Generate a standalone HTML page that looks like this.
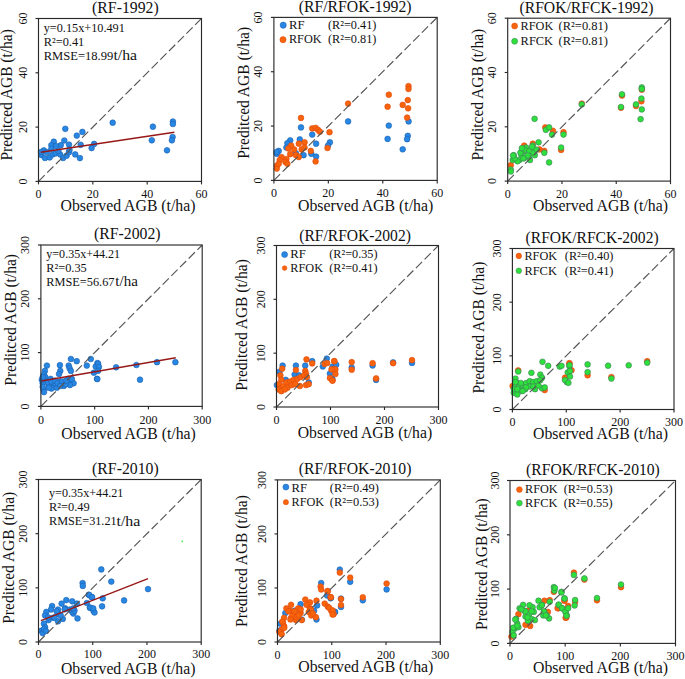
<!DOCTYPE html>
<html><head><meta charset="utf-8"><style>
html,body{margin:0;padding:0;background:#fff;}
svg{display:block;}
text{font-family:"Liberation Serif", serif;fill:#111;}
</style></head><body>
<svg width="685" height="679" viewBox="0 0 685 679">
<rect width="685" height="679" fill="#fff"/>
<g id="p11"><circle cx="53.8" cy="141.7" r="2.85" fill="#2787e3" stroke="#1d5fae" stroke-width="0.6"/>
<circle cx="51.4" cy="145.2" r="2.85" fill="#2787e3" stroke="#1d5fae" stroke-width="0.6"/>
<circle cx="51.4" cy="148.7" r="2.85" fill="#2787e3" stroke="#1d5fae" stroke-width="0.6"/>
<circle cx="64.3" cy="140.5" r="2.85" fill="#2787e3" stroke="#1d5fae" stroke-width="0.6"/>
<circle cx="60.8" cy="145.2" r="2.85" fill="#2787e3" stroke="#1d5fae" stroke-width="0.6"/>
<circle cx="69" cy="144.6" r="2.85" fill="#2787e3" stroke="#1d5fae" stroke-width="0.6"/>
<circle cx="43.8" cy="150.4" r="2.85" fill="#2787e3" stroke="#1d5fae" stroke-width="0.6"/>
<circle cx="41.5" cy="155.1" r="2.85" fill="#2787e3" stroke="#1d5fae" stroke-width="0.6"/>
<circle cx="45" cy="158" r="2.85" fill="#2787e3" stroke="#1d5fae" stroke-width="0.6"/>
<circle cx="49.7" cy="157.4" r="2.85" fill="#2787e3" stroke="#1d5fae" stroke-width="0.6"/>
<circle cx="52.6" cy="154.5" r="2.85" fill="#2787e3" stroke="#1d5fae" stroke-width="0.6"/>
<circle cx="55.5" cy="153.4" r="2.85" fill="#2787e3" stroke="#1d5fae" stroke-width="0.6"/>
<circle cx="60.2" cy="154.5" r="2.85" fill="#2787e3" stroke="#1d5fae" stroke-width="0.6"/>
<circle cx="63.1" cy="158" r="2.85" fill="#2787e3" stroke="#1d5fae" stroke-width="0.6"/>
<circle cx="66.6" cy="155.7" r="2.85" fill="#2787e3" stroke="#1d5fae" stroke-width="0.6"/>
<circle cx="69" cy="152.2" r="2.85" fill="#2787e3" stroke="#1d5fae" stroke-width="0.6"/>
<circle cx="69.5" cy="149.9" r="2.85" fill="#2787e3" stroke="#1d5fae" stroke-width="0.6"/>
<circle cx="58.4" cy="151" r="2.85" fill="#2787e3" stroke="#1d5fae" stroke-width="0.6"/>
<circle cx="56" cy="146" r="2.85" fill="#2787e3" stroke="#1d5fae" stroke-width="0.6"/>
<circle cx="47" cy="152" r="2.85" fill="#2787e3" stroke="#1d5fae" stroke-width="0.6"/>
<circle cx="41" cy="152" r="2.85" fill="#2787e3" stroke="#1d5fae" stroke-width="0.6"/>
<circle cx="65.3" cy="128.8" r="2.85" fill="#2787e3" stroke="#1d5fae" stroke-width="0.6"/>
<circle cx="76.8" cy="135.6" r="2.85" fill="#2787e3" stroke="#1d5fae" stroke-width="0.6"/>
<circle cx="82.4" cy="131.9" r="2.85" fill="#2787e3" stroke="#1d5fae" stroke-width="0.6"/>
<circle cx="80.7" cy="144.8" r="2.85" fill="#2787e3" stroke="#1d5fae" stroke-width="0.6"/>
<circle cx="94.1" cy="143.9" r="2.85" fill="#2787e3" stroke="#1d5fae" stroke-width="0.6"/>
<circle cx="91.6" cy="148.1" r="2.85" fill="#2787e3" stroke="#1d5fae" stroke-width="0.6"/>
<circle cx="75.2" cy="154.4" r="2.85" fill="#2787e3" stroke="#1d5fae" stroke-width="0.6"/>
<circle cx="79.9" cy="158.1" r="2.85" fill="#2787e3" stroke="#1d5fae" stroke-width="0.6"/>
<circle cx="112.7" cy="122.7" r="2.85" fill="#2787e3" stroke="#1d5fae" stroke-width="0.6"/>
<circle cx="152.9" cy="126.7" r="2.85" fill="#2787e3" stroke="#1d5fae" stroke-width="0.6"/>
<circle cx="172.9" cy="121.5" r="2.85" fill="#2787e3" stroke="#1d5fae" stroke-width="0.6"/>
<circle cx="172.9" cy="124" r="2.85" fill="#2787e3" stroke="#1d5fae" stroke-width="0.6"/>
<circle cx="151.8" cy="140.3" r="2.85" fill="#2787e3" stroke="#1d5fae" stroke-width="0.6"/>
<circle cx="172.6" cy="137" r="2.85" fill="#2787e3" stroke="#1d5fae" stroke-width="0.6"/>
<circle cx="171.9" cy="140.3" r="2.85" fill="#2787e3" stroke="#1d5fae" stroke-width="0.6"/>
<circle cx="167" cy="150.3" r="2.85" fill="#2787e3" stroke="#1d5fae" stroke-width="0.6"/>
<line x1="38.5" y1="181.4" x2="201.5" y2="18.5" stroke="#555555" stroke-width="1.15" stroke-dasharray="8.8 3.5"/>
<line x1="40.7" y1="152.3" x2="174.4" y2="132.3" stroke="#981818" stroke-width="1.45"/>
<rect x="38.5" y="18.5" width="163" height="162.9" fill="none" stroke="#2a2a2a" stroke-width="1.15"/>
<line x1="38.5" y1="181.4" x2="38.5" y2="184.4" stroke="#2a2a2a" stroke-width="1.15"/>
<line x1="35.5" y1="181.4" x2="38.5" y2="181.4" stroke="#2a2a2a" stroke-width="1.15"/>
<text transform="translate(38.5 197.9) scale(1 1)" font-size="12" text-anchor="middle">0</text>
<text transform="translate(27 181.4) rotate(-90) scale(1 1)" font-size="12" text-anchor="middle">0</text>
<line x1="92.83" y1="181.4" x2="92.83" y2="184.4" stroke="#2a2a2a" stroke-width="1.15"/>
<line x1="35.5" y1="127.1" x2="38.5" y2="127.1" stroke="#2a2a2a" stroke-width="1.15"/>
<text transform="translate(92.83 197.9) scale(1 1)" font-size="12" text-anchor="middle">20</text>
<text transform="translate(27 127.1) rotate(-90) scale(1 1)" font-size="12" text-anchor="middle">20</text>
<line x1="147.17" y1="181.4" x2="147.17" y2="184.4" stroke="#2a2a2a" stroke-width="1.15"/>
<line x1="35.5" y1="72.8" x2="38.5" y2="72.8" stroke="#2a2a2a" stroke-width="1.15"/>
<text transform="translate(147.17 197.9) scale(1 1)" font-size="12" text-anchor="middle">40</text>
<text transform="translate(27 72.8) rotate(-90) scale(1 1)" font-size="12" text-anchor="middle">40</text>
<line x1="201.5" y1="181.4" x2="201.5" y2="184.4" stroke="#2a2a2a" stroke-width="1.15"/>
<line x1="35.5" y1="18.5" x2="38.5" y2="18.5" stroke="#2a2a2a" stroke-width="1.15"/>
<text transform="translate(201.5 197.9) scale(1 1)" font-size="12" text-anchor="middle">60</text>
<text transform="translate(27 18.5) rotate(-90) scale(1 1)" font-size="12" text-anchor="middle">60</text>
<text transform="translate(92.1 12.9) scale(1 1)" font-size="15.9" textLength="66.6" lengthAdjust="spacingAndGlyphs">(RF-1992)</text>
<text transform="translate(60.6 211) scale(1 1)" font-size="16" textLength="134.9" lengthAdjust="spacingAndGlyphs">Observed AGB (t/ha)</text>
<text transform="translate(12.1 160.6) rotate(-90) scale(1 1)" font-size="16" textLength="131.4" lengthAdjust="spacingAndGlyphs">Preditced AGB (t/ha)</text>
<text transform="translate(43.7 31.7) scale(1 1)" font-size="13" textLength="81.1" lengthAdjust="spacingAndGlyphs">y=0.15x+10.491</text>
<text transform="translate(43.7 45.5) scale(1 1)" font-size="13" textLength="40.6" lengthAdjust="spacingAndGlyphs">R²=0.41</text>
<text transform="translate(43.7 59.7) scale(1 1)" font-size="13" textLength="69.6" lengthAdjust="spacingAndGlyphs">RMSE=18.99</text>
<text transform="translate(113.4 59.9) scale(1 1)" font-size="15.5" textLength="23.6" lengthAdjust="spacingAndGlyphs">t/ha</text></g>
<g id="p12"><circle cx="301" cy="127.4" r="2.85" fill="#2787e3" stroke="#1d5fae" stroke-width="0.6"/>
<circle cx="312.2" cy="134.6" r="2.85" fill="#2787e3" stroke="#1d5fae" stroke-width="0.6"/>
<circle cx="316.1" cy="143.7" r="2.85" fill="#2787e3" stroke="#1d5fae" stroke-width="0.6"/>
<circle cx="329.9" cy="142.3" r="2.85" fill="#2787e3" stroke="#1d5fae" stroke-width="0.6"/>
<circle cx="328" cy="145.6" r="2.85" fill="#2787e3" stroke="#1d5fae" stroke-width="0.6"/>
<circle cx="311.3" cy="153.8" r="2.85" fill="#2787e3" stroke="#1d5fae" stroke-width="0.6"/>
<circle cx="316.1" cy="156.6" r="2.85" fill="#2787e3" stroke="#1d5fae" stroke-width="0.6"/>
<circle cx="290.2" cy="140.4" r="2.85" fill="#2787e3" stroke="#1d5fae" stroke-width="0.6"/>
<circle cx="287.4" cy="143.2" r="2.85" fill="#2787e3" stroke="#1d5fae" stroke-width="0.6"/>
<circle cx="299.8" cy="139.4" r="2.85" fill="#2787e3" stroke="#1d5fae" stroke-width="0.6"/>
<circle cx="286.4" cy="147.5" r="2.85" fill="#2787e3" stroke="#1d5fae" stroke-width="0.6"/>
<circle cx="278.7" cy="150.9" r="2.85" fill="#2787e3" stroke="#1d5fae" stroke-width="0.6"/>
<circle cx="276.8" cy="153.8" r="2.85" fill="#2787e3" stroke="#1d5fae" stroke-width="0.6"/>
<circle cx="276.5" cy="152" r="2.85" fill="#2787e3" stroke="#1d5fae" stroke-width="0.6"/>
<circle cx="296" cy="153.3" r="2.85" fill="#2787e3" stroke="#1d5fae" stroke-width="0.6"/>
<circle cx="303.6" cy="155.2" r="2.85" fill="#2787e3" stroke="#1d5fae" stroke-width="0.6"/>
<circle cx="348.1" cy="121.4" r="2.85" fill="#2787e3" stroke="#1d5fae" stroke-width="0.6"/>
<circle cx="388.8" cy="125.6" r="2.85" fill="#2787e3" stroke="#1d5fae" stroke-width="0.6"/>
<circle cx="387.6" cy="138.9" r="2.85" fill="#2787e3" stroke="#1d5fae" stroke-width="0.6"/>
<circle cx="408.6" cy="121.4" r="2.85" fill="#2787e3" stroke="#1d5fae" stroke-width="0.6"/>
<circle cx="407.8" cy="135.8" r="2.85" fill="#2787e3" stroke="#1d5fae" stroke-width="0.6"/>
<circle cx="407.1" cy="139.2" r="2.85" fill="#2787e3" stroke="#1d5fae" stroke-width="0.6"/>
<circle cx="402.7" cy="149.3" r="2.85" fill="#2787e3" stroke="#1d5fae" stroke-width="0.6"/>
<circle cx="301" cy="117.9" r="2.85" fill="#f8640c" stroke="#e0480e" stroke-width="0.6"/>
<circle cx="312.2" cy="128.4" r="2.85" fill="#f8640c" stroke="#e0480e" stroke-width="0.6"/>
<circle cx="315.6" cy="127.9" r="2.85" fill="#f8640c" stroke="#e0480e" stroke-width="0.6"/>
<circle cx="318" cy="129.8" r="2.85" fill="#f8640c" stroke="#e0480e" stroke-width="0.6"/>
<circle cx="319.9" cy="131.7" r="2.85" fill="#f8640c" stroke="#e0480e" stroke-width="0.6"/>
<circle cx="329.5" cy="132.2" r="2.85" fill="#f8640c" stroke="#e0480e" stroke-width="0.6"/>
<circle cx="327.5" cy="148" r="2.85" fill="#f8640c" stroke="#e0480e" stroke-width="0.6"/>
<circle cx="310.8" cy="150.9" r="2.85" fill="#f8640c" stroke="#e0480e" stroke-width="0.6"/>
<circle cx="315.6" cy="161.4" r="2.85" fill="#f8640c" stroke="#e0480e" stroke-width="0.6"/>
<circle cx="304.6" cy="142.3" r="2.85" fill="#f8640c" stroke="#e0480e" stroke-width="0.6"/>
<circle cx="298.8" cy="143.7" r="2.85" fill="#f8640c" stroke="#e0480e" stroke-width="0.6"/>
<circle cx="291.2" cy="145.6" r="2.85" fill="#f8640c" stroke="#e0480e" stroke-width="0.6"/>
<circle cx="288.3" cy="148.5" r="2.85" fill="#f8640c" stroke="#e0480e" stroke-width="0.6"/>
<circle cx="294.1" cy="149.4" r="2.85" fill="#f8640c" stroke="#e0480e" stroke-width="0.6"/>
<circle cx="301.7" cy="149.4" r="2.85" fill="#f8640c" stroke="#e0480e" stroke-width="0.6"/>
<circle cx="304.6" cy="147.5" r="2.85" fill="#f8640c" stroke="#e0480e" stroke-width="0.6"/>
<circle cx="290.2" cy="154.2" r="2.85" fill="#f8640c" stroke="#e0480e" stroke-width="0.6"/>
<circle cx="296" cy="155.2" r="2.85" fill="#f8640c" stroke="#e0480e" stroke-width="0.6"/>
<circle cx="298.8" cy="157.1" r="2.85" fill="#f8640c" stroke="#e0480e" stroke-width="0.6"/>
<circle cx="286.4" cy="159" r="2.85" fill="#f8640c" stroke="#e0480e" stroke-width="0.6"/>
<circle cx="281.6" cy="157.1" r="2.85" fill="#f8640c" stroke="#e0480e" stroke-width="0.6"/>
<circle cx="279.7" cy="160" r="2.85" fill="#f8640c" stroke="#e0480e" stroke-width="0.6"/>
<circle cx="276.8" cy="165.7" r="2.85" fill="#f8640c" stroke="#e0480e" stroke-width="0.6"/>
<circle cx="276.8" cy="168.6" r="2.85" fill="#f8640c" stroke="#e0480e" stroke-width="0.6"/>
<circle cx="285.4" cy="161.9" r="2.85" fill="#f8640c" stroke="#e0480e" stroke-width="0.6"/>
<circle cx="287.4" cy="163.8" r="2.85" fill="#f8640c" stroke="#e0480e" stroke-width="0.6"/>
<circle cx="278.7" cy="163.8" r="2.85" fill="#f8640c" stroke="#e0480e" stroke-width="0.6"/>
<circle cx="348.1" cy="103.6" r="2.85" fill="#f8640c" stroke="#e0480e" stroke-width="0.6"/>
<circle cx="388.8" cy="94.7" r="2.85" fill="#f8640c" stroke="#e0480e" stroke-width="0.6"/>
<circle cx="387.6" cy="106.7" r="2.85" fill="#f8640c" stroke="#e0480e" stroke-width="0.6"/>
<circle cx="408.5" cy="86.1" r="2.85" fill="#f8640c" stroke="#e0480e" stroke-width="0.6"/>
<circle cx="408.5" cy="88.9" r="2.85" fill="#f8640c" stroke="#e0480e" stroke-width="0.6"/>
<circle cx="407.8" cy="100.1" r="2.85" fill="#f8640c" stroke="#e0480e" stroke-width="0.6"/>
<circle cx="402.7" cy="104.9" r="2.85" fill="#f8640c" stroke="#e0480e" stroke-width="0.6"/>
<circle cx="408.1" cy="108.3" r="2.85" fill="#f8640c" stroke="#e0480e" stroke-width="0.6"/>
<circle cx="407.1" cy="117.6" r="2.85" fill="#f8640c" stroke="#e0480e" stroke-width="0.6"/>
<line x1="273.9" y1="180.4" x2="437.2" y2="17.4" stroke="#555555" stroke-width="1.15" stroke-dasharray="8.8 3.5"/>
<rect x="273.9" y="17.4" width="163.3" height="163" fill="none" stroke="#2a2a2a" stroke-width="1.15"/>
<line x1="273.9" y1="180.4" x2="273.9" y2="183.4" stroke="#2a2a2a" stroke-width="1.15"/>
<line x1="270.9" y1="180.4" x2="273.9" y2="180.4" stroke="#2a2a2a" stroke-width="1.15"/>
<text transform="translate(273.9 196.7) scale(1 1)" font-size="12" text-anchor="middle">0</text>
<text transform="translate(262.4 180.4) rotate(-90) scale(1 1)" font-size="12" text-anchor="middle">0</text>
<line x1="328.33" y1="180.4" x2="328.33" y2="183.4" stroke="#2a2a2a" stroke-width="1.15"/>
<line x1="270.9" y1="126.07" x2="273.9" y2="126.07" stroke="#2a2a2a" stroke-width="1.15"/>
<text transform="translate(328.33 196.7) scale(1 1)" font-size="12" text-anchor="middle">20</text>
<text transform="translate(262.4 126.07) rotate(-90) scale(1 1)" font-size="12" text-anchor="middle">20</text>
<line x1="382.77" y1="180.4" x2="382.77" y2="183.4" stroke="#2a2a2a" stroke-width="1.15"/>
<line x1="270.9" y1="71.73" x2="273.9" y2="71.73" stroke="#2a2a2a" stroke-width="1.15"/>
<text transform="translate(382.77 196.7) scale(1 1)" font-size="12" text-anchor="middle">40</text>
<text transform="translate(262.4 71.73) rotate(-90) scale(1 1)" font-size="12" text-anchor="middle">40</text>
<line x1="437.2" y1="180.4" x2="437.2" y2="183.4" stroke="#2a2a2a" stroke-width="1.15"/>
<line x1="270.9" y1="17.4" x2="273.9" y2="17.4" stroke="#2a2a2a" stroke-width="1.15"/>
<text transform="translate(437.2 196.7) scale(1 1)" font-size="12" text-anchor="middle">60</text>
<text transform="translate(262.4 17.4) rotate(-90) scale(1 1)" font-size="12" text-anchor="middle">60</text>
<text transform="translate(298.7 12) scale(1 1)" font-size="15.9" textLength="112.9" lengthAdjust="spacingAndGlyphs">(RF/RFOK-1992)</text>
<text transform="translate(298 211.3) scale(1 1)" font-size="16" textLength="135.3" lengthAdjust="spacingAndGlyphs">Observed AGB (t/ha)</text>
<text transform="translate(248.5 158.8) rotate(-90) scale(1 1)" font-size="16" textLength="131.9" lengthAdjust="spacingAndGlyphs">Preditced AGB (t/ha)</text>
<circle cx="283.2" cy="25.2" r="3.1" fill="#2787e3" stroke="#1d5fae" stroke-width="0.5"/>
<text transform="translate(288.9 28.6) scale(1 1)" font-size="13" textLength="15.6" lengthAdjust="spacingAndGlyphs">RF</text>
<text transform="translate(328 28.6) scale(1 1)" font-size="13" textLength="48.4" lengthAdjust="spacingAndGlyphs">(R²=0.41)</text>
<circle cx="283" cy="39.7" r="3.1" fill="#f8640c" stroke="#e0480e" stroke-width="0.5"/>
<text transform="translate(288.9 43) scale(1 1)" font-size="13" textLength="32.7" lengthAdjust="spacingAndGlyphs">RFOK</text>
<text transform="translate(328 43) scale(1 1)" font-size="13" textLength="48.4" lengthAdjust="spacingAndGlyphs">(R²=0.81)</text></g>
<g id="p13"><circle cx="545.3" cy="127.4" r="2.85" fill="#f8640c" stroke="#e0480e" stroke-width="0.6"/>
<circle cx="552.9" cy="130.8" r="2.85" fill="#f8640c" stroke="#e0480e" stroke-width="0.6"/>
<circle cx="563.5" cy="132.2" r="2.85" fill="#f8640c" stroke="#e0480e" stroke-width="0.6"/>
<circle cx="561.1" cy="149.9" r="2.85" fill="#f8640c" stroke="#e0480e" stroke-width="0.6"/>
<circle cx="544.3" cy="150.9" r="2.85" fill="#f8640c" stroke="#e0480e" stroke-width="0.6"/>
<circle cx="524.2" cy="145.6" r="2.85" fill="#f8640c" stroke="#e0480e" stroke-width="0.6"/>
<circle cx="532.8" cy="143.7" r="2.85" fill="#f8640c" stroke="#e0480e" stroke-width="0.6"/>
<circle cx="510.8" cy="165.2" r="2.85" fill="#f8640c" stroke="#e0480e" stroke-width="0.6"/>
<circle cx="539.5" cy="149.4" r="2.85" fill="#f8640c" stroke="#e0480e" stroke-width="0.6"/>
<circle cx="581.8" cy="103.6" r="2.85" fill="#f8640c" stroke="#e0480e" stroke-width="0.6"/>
<circle cx="622" cy="95.6" r="2.85" fill="#f8640c" stroke="#e0480e" stroke-width="0.6"/>
<circle cx="641.8" cy="89.7" r="2.85" fill="#f8640c" stroke="#e0480e" stroke-width="0.6"/>
<circle cx="641.4" cy="101.3" r="2.85" fill="#f8640c" stroke="#e0480e" stroke-width="0.6"/>
<circle cx="636" cy="106" r="2.85" fill="#f8640c" stroke="#e0480e" stroke-width="0.6"/>
<circle cx="621" cy="107.8" r="2.85" fill="#f8640c" stroke="#e0480e" stroke-width="0.6"/>
<circle cx="534.6" cy="118.8" r="2.85" fill="#2ee03c" stroke="#3f7a5a" stroke-width="0.6"/>
<circle cx="545.8" cy="129.8" r="2.85" fill="#2ee03c" stroke="#3f7a5a" stroke-width="0.6"/>
<circle cx="549.1" cy="127.4" r="2.85" fill="#2ee03c" stroke="#3f7a5a" stroke-width="0.6"/>
<circle cx="552" cy="134.6" r="2.85" fill="#2ee03c" stroke="#3f7a5a" stroke-width="0.6"/>
<circle cx="563.5" cy="134.6" r="2.85" fill="#2ee03c" stroke="#3f7a5a" stroke-width="0.6"/>
<circle cx="561.1" cy="147.5" r="2.85" fill="#2ee03c" stroke="#3f7a5a" stroke-width="0.6"/>
<circle cx="544.3" cy="152.8" r="2.85" fill="#2ee03c" stroke="#3f7a5a" stroke-width="0.6"/>
<circle cx="549.1" cy="162.4" r="2.85" fill="#2ee03c" stroke="#3f7a5a" stroke-width="0.6"/>
<circle cx="538.6" cy="142.3" r="2.85" fill="#2ee03c" stroke="#3f7a5a" stroke-width="0.6"/>
<circle cx="532.8" cy="145.6" r="2.85" fill="#2ee03c" stroke="#3f7a5a" stroke-width="0.6"/>
<circle cx="533.8" cy="149.4" r="2.85" fill="#2ee03c" stroke="#3f7a5a" stroke-width="0.6"/>
<circle cx="526.1" cy="147.5" r="2.85" fill="#2ee03c" stroke="#3f7a5a" stroke-width="0.6"/>
<circle cx="523.3" cy="151.4" r="2.85" fill="#2ee03c" stroke="#3f7a5a" stroke-width="0.6"/>
<circle cx="521.4" cy="155.2" r="2.85" fill="#2ee03c" stroke="#3f7a5a" stroke-width="0.6"/>
<circle cx="519.4" cy="160" r="2.85" fill="#2ee03c" stroke="#3f7a5a" stroke-width="0.6"/>
<circle cx="529" cy="156.1" r="2.85" fill="#2ee03c" stroke="#3f7a5a" stroke-width="0.6"/>
<circle cx="530" cy="160" r="2.85" fill="#2ee03c" stroke="#3f7a5a" stroke-width="0.6"/>
<circle cx="534.8" cy="155.2" r="2.85" fill="#2ee03c" stroke="#3f7a5a" stroke-width="0.6"/>
<circle cx="513.7" cy="155.2" r="2.85" fill="#2ee03c" stroke="#3f7a5a" stroke-width="0.6"/>
<circle cx="512.7" cy="160" r="2.85" fill="#2ee03c" stroke="#3f7a5a" stroke-width="0.6"/>
<circle cx="510.8" cy="169.5" r="2.85" fill="#2ee03c" stroke="#3f7a5a" stroke-width="0.6"/>
<circle cx="510.8" cy="171.5" r="2.85" fill="#2ee03c" stroke="#3f7a5a" stroke-width="0.6"/>
<circle cx="524.2" cy="158.1" r="2.85" fill="#2ee03c" stroke="#3f7a5a" stroke-width="0.6"/>
<circle cx="581.8" cy="104.4" r="2.85" fill="#2ee03c" stroke="#3f7a5a" stroke-width="0.6"/>
<circle cx="622" cy="94.3" r="2.85" fill="#2ee03c" stroke="#3f7a5a" stroke-width="0.6"/>
<circle cx="621" cy="107" r="2.85" fill="#2ee03c" stroke="#3f7a5a" stroke-width="0.6"/>
<circle cx="641.8" cy="87.4" r="2.85" fill="#2ee03c" stroke="#3f7a5a" stroke-width="0.6"/>
<circle cx="641.8" cy="89" r="2.85" fill="#2ee03c" stroke="#3f7a5a" stroke-width="0.6"/>
<circle cx="641.4" cy="98.5" r="2.85" fill="#2ee03c" stroke="#3f7a5a" stroke-width="0.6"/>
<circle cx="636" cy="104.4" r="2.85" fill="#2ee03c" stroke="#3f7a5a" stroke-width="0.6"/>
<circle cx="641.8" cy="109.4" r="2.85" fill="#2ee03c" stroke="#3f7a5a" stroke-width="0.6"/>
<circle cx="640.6" cy="119.1" r="2.85" fill="#2ee03c" stroke="#3f7a5a" stroke-width="0.6"/>
<circle cx="520.4" cy="152.6" r="2.85" fill="#2ee03c" stroke="#3f7a5a" stroke-width="0.6"/>
<circle cx="524.8" cy="149.6" r="2.85" fill="#2ee03c" stroke="#3f7a5a" stroke-width="0.6"/>
<circle cx="529.2" cy="151.1" r="2.85" fill="#2ee03c" stroke="#3f7a5a" stroke-width="0.6"/>
<circle cx="533.6" cy="152.6" r="2.85" fill="#2ee03c" stroke="#3f7a5a" stroke-width="0.6"/>
<circle cx="536.5" cy="149.6" r="2.85" fill="#2ee03c" stroke="#3f7a5a" stroke-width="0.6"/>
<circle cx="527.7" cy="155.5" r="2.85" fill="#2ee03c" stroke="#3f7a5a" stroke-width="0.6"/>
<circle cx="523.4" cy="158.4" r="2.85" fill="#2ee03c" stroke="#3f7a5a" stroke-width="0.6"/>
<circle cx="517.5" cy="161.3" r="2.85" fill="#2ee03c" stroke="#3f7a5a" stroke-width="0.6"/>
<circle cx="514.6" cy="158.4" r="2.85" fill="#2ee03c" stroke="#3f7a5a" stroke-width="0.6"/>
<circle cx="532.1" cy="146.7" r="2.85" fill="#2ee03c" stroke="#3f7a5a" stroke-width="0.6"/>
<circle cx="521.9" cy="148.2" r="2.85" fill="#2ee03c" stroke="#3f7a5a" stroke-width="0.6"/>
<circle cx="513.1" cy="155.5" r="2.85" fill="#2ee03c" stroke="#3f7a5a" stroke-width="0.6"/>
<line x1="507.7" y1="181.1" x2="670.5" y2="18.2" stroke="#555555" stroke-width="1.15" stroke-dasharray="8.8 3.5"/>
<rect x="507.7" y="18.2" width="162.8" height="162.9" fill="none" stroke="#2a2a2a" stroke-width="1.15"/>
<line x1="507.7" y1="181.1" x2="507.7" y2="184.1" stroke="#2a2a2a" stroke-width="1.15"/>
<line x1="504.7" y1="181.1" x2="507.7" y2="181.1" stroke="#2a2a2a" stroke-width="1.15"/>
<text transform="translate(507.7 197.5) scale(1 1)" font-size="12" text-anchor="middle">0</text>
<text transform="translate(496.2 181.1) rotate(-90) scale(1 1)" font-size="12" text-anchor="middle">0</text>
<line x1="561.97" y1="181.1" x2="561.97" y2="184.1" stroke="#2a2a2a" stroke-width="1.15"/>
<line x1="504.7" y1="126.8" x2="507.7" y2="126.8" stroke="#2a2a2a" stroke-width="1.15"/>
<text transform="translate(561.97 197.5) scale(1 1)" font-size="12" text-anchor="middle">20</text>
<text transform="translate(496.2 126.8) rotate(-90) scale(1 1)" font-size="12" text-anchor="middle">20</text>
<line x1="616.23" y1="181.1" x2="616.23" y2="184.1" stroke="#2a2a2a" stroke-width="1.15"/>
<line x1="504.7" y1="72.5" x2="507.7" y2="72.5" stroke="#2a2a2a" stroke-width="1.15"/>
<text transform="translate(616.23 197.5) scale(1 1)" font-size="12" text-anchor="middle">40</text>
<text transform="translate(496.2 72.5) rotate(-90) scale(1 1)" font-size="12" text-anchor="middle">40</text>
<line x1="670.5" y1="181.1" x2="670.5" y2="184.1" stroke="#2a2a2a" stroke-width="1.15"/>
<line x1="504.7" y1="18.2" x2="507.7" y2="18.2" stroke="#2a2a2a" stroke-width="1.15"/>
<text transform="translate(670.5 197.5) scale(1 1)" font-size="12" text-anchor="middle">60</text>
<text transform="translate(496.2 18.2) rotate(-90) scale(1 1)" font-size="12" text-anchor="middle">60</text>
<text transform="translate(519.5 12.9) scale(1 1)" font-size="15.9" textLength="134" lengthAdjust="spacingAndGlyphs">(RFOK/RFCK-1992)</text>
<text transform="translate(533 211) scale(1 1)" font-size="16" textLength="135" lengthAdjust="spacingAndGlyphs">Observed AGB (t/ha)</text>
<text transform="translate(483.3 160.4) rotate(-90) scale(1 1)" font-size="16" textLength="131.6" lengthAdjust="spacingAndGlyphs">Preditced AGB (t/ha)</text>
<circle cx="514.6" cy="26" r="3" fill="#f8640c" stroke="#e0480e" stroke-width="0.5"/>
<text transform="translate(520.6 29.9) scale(1 1)" font-size="13" textLength="32.7" lengthAdjust="spacingAndGlyphs">RFOK</text>
<text transform="translate(558.6 29.9) scale(1 1)" font-size="13" textLength="49.3" lengthAdjust="spacingAndGlyphs">(R²=0.81)</text>
<circle cx="514.6" cy="41.3" r="3" fill="#2ee03c" stroke="#3f7a5a" stroke-width="0.5"/>
<text transform="translate(520.6 44.8) scale(1 1)" font-size="13" textLength="32.5" lengthAdjust="spacingAndGlyphs">RFCK</text>
<text transform="translate(558.6 44.8) scale(1 1)" font-size="13" textLength="49.3" lengthAdjust="spacingAndGlyphs">(R²=0.81)</text></g>
<g id="p21"><circle cx="46.9" cy="365.6" r="2.85" fill="#2787e3" stroke="#1d5fae" stroke-width="0.6"/>
<circle cx="59.9" cy="365.2" r="2.85" fill="#2787e3" stroke="#1d5fae" stroke-width="0.6"/>
<circle cx="70.9" cy="359" r="2.85" fill="#2787e3" stroke="#1d5fae" stroke-width="0.6"/>
<circle cx="76.7" cy="361.2" r="2.85" fill="#2787e3" stroke="#1d5fae" stroke-width="0.6"/>
<circle cx="68.7" cy="365.6" r="2.85" fill="#2787e3" stroke="#1d5fae" stroke-width="0.6"/>
<circle cx="69.6" cy="368.3" r="2.85" fill="#2787e3" stroke="#1d5fae" stroke-width="0.6"/>
<circle cx="70.9" cy="370.9" r="2.85" fill="#2787e3" stroke="#1d5fae" stroke-width="0.6"/>
<circle cx="60.3" cy="370.9" r="2.85" fill="#2787e3" stroke="#1d5fae" stroke-width="0.6"/>
<circle cx="59" cy="374" r="2.85" fill="#2787e3" stroke="#1d5fae" stroke-width="0.6"/>
<circle cx="44.9" cy="370.9" r="2.85" fill="#2787e3" stroke="#1d5fae" stroke-width="0.6"/>
<circle cx="44" cy="374.5" r="2.85" fill="#2787e3" stroke="#1d5fae" stroke-width="0.6"/>
<circle cx="45.3" cy="377.1" r="2.85" fill="#2787e3" stroke="#1d5fae" stroke-width="0.6"/>
<circle cx="86.8" cy="365.6" r="2.85" fill="#2787e3" stroke="#1d5fae" stroke-width="0.6"/>
<circle cx="90.8" cy="359" r="2.85" fill="#2787e3" stroke="#1d5fae" stroke-width="0.6"/>
<circle cx="97.4" cy="363" r="2.85" fill="#2787e3" stroke="#1d5fae" stroke-width="0.6"/>
<circle cx="95.7" cy="366.5" r="2.85" fill="#2787e3" stroke="#1d5fae" stroke-width="0.6"/>
<circle cx="93.9" cy="372.7" r="2.85" fill="#2787e3" stroke="#1d5fae" stroke-width="0.6"/>
<circle cx="97" cy="378.9" r="2.85" fill="#2787e3" stroke="#1d5fae" stroke-width="0.6"/>
<circle cx="42.7" cy="383.3" r="2.85" fill="#2787e3" stroke="#1d5fae" stroke-width="0.6"/>
<circle cx="43.5" cy="389.5" r="2.85" fill="#2787e3" stroke="#1d5fae" stroke-width="0.6"/>
<circle cx="44" cy="392.1" r="2.85" fill="#2787e3" stroke="#1d5fae" stroke-width="0.6"/>
<circle cx="48.8" cy="385.1" r="2.85" fill="#2787e3" stroke="#1d5fae" stroke-width="0.6"/>
<circle cx="53.3" cy="386.8" r="2.85" fill="#2787e3" stroke="#1d5fae" stroke-width="0.6"/>
<circle cx="57.7" cy="385.9" r="2.85" fill="#2787e3" stroke="#1d5fae" stroke-width="0.6"/>
<circle cx="62.1" cy="384.2" r="2.85" fill="#2787e3" stroke="#1d5fae" stroke-width="0.6"/>
<circle cx="64.7" cy="381.5" r="2.85" fill="#2787e3" stroke="#1d5fae" stroke-width="0.6"/>
<circle cx="68.3" cy="378.9" r="2.85" fill="#2787e3" stroke="#1d5fae" stroke-width="0.6"/>
<circle cx="71.8" cy="381.5" r="2.85" fill="#2787e3" stroke="#1d5fae" stroke-width="0.6"/>
<circle cx="73.6" cy="383.3" r="2.85" fill="#2787e3" stroke="#1d5fae" stroke-width="0.6"/>
<circle cx="70" cy="385.1" r="2.85" fill="#2787e3" stroke="#1d5fae" stroke-width="0.6"/>
<circle cx="63.9" cy="385.9" r="2.85" fill="#2787e3" stroke="#1d5fae" stroke-width="0.6"/>
<circle cx="51.5" cy="388.6" r="2.85" fill="#2787e3" stroke="#1d5fae" stroke-width="0.6"/>
<circle cx="56.8" cy="387.7" r="2.85" fill="#2787e3" stroke="#1d5fae" stroke-width="0.6"/>
<circle cx="42.7" cy="386.8" r="2.85" fill="#2787e3" stroke="#1d5fae" stroke-width="0.6"/>
<circle cx="48" cy="381.5" r="2.85" fill="#2787e3" stroke="#1d5fae" stroke-width="0.6"/>
<circle cx="55" cy="383.3" r="2.85" fill="#2787e3" stroke="#1d5fae" stroke-width="0.6"/>
<circle cx="60.3" cy="381.5" r="2.85" fill="#2787e3" stroke="#1d5fae" stroke-width="0.6"/>
<circle cx="50.6" cy="378.9" r="2.85" fill="#2787e3" stroke="#1d5fae" stroke-width="0.6"/>
<circle cx="98.1" cy="363.7" r="2.85" fill="#2787e3" stroke="#1d5fae" stroke-width="0.6"/>
<circle cx="98.9" cy="366.9" r="2.85" fill="#2787e3" stroke="#1d5fae" stroke-width="0.6"/>
<circle cx="98.1" cy="370.8" r="2.85" fill="#2787e3" stroke="#1d5fae" stroke-width="0.6"/>
<circle cx="97.3" cy="379" r="2.85" fill="#2787e3" stroke="#1d5fae" stroke-width="0.6"/>
<circle cx="116.1" cy="367.3" r="2.85" fill="#2787e3" stroke="#1d5fae" stroke-width="0.6"/>
<circle cx="136.4" cy="365" r="2.85" fill="#2787e3" stroke="#1d5fae" stroke-width="0.6"/>
<circle cx="140" cy="379.7" r="2.85" fill="#2787e3" stroke="#1d5fae" stroke-width="0.6"/>
<circle cx="157" cy="362.2" r="2.85" fill="#2787e3" stroke="#1d5fae" stroke-width="0.6"/>
<circle cx="175.4" cy="362.2" r="2.85" fill="#2787e3" stroke="#1d5fae" stroke-width="0.6"/>
<circle cx="48" cy="382.4" r="2.85" fill="#2787e3" stroke="#1d5fae" stroke-width="0.6"/>
<circle cx="51.5" cy="381.5" r="2.85" fill="#2787e3" stroke="#1d5fae" stroke-width="0.6"/>
<circle cx="55" cy="380.6" r="2.85" fill="#2787e3" stroke="#1d5fae" stroke-width="0.6"/>
<circle cx="57.7" cy="383.3" r="2.85" fill="#2787e3" stroke="#1d5fae" stroke-width="0.6"/>
<circle cx="62.1" cy="381.5" r="2.85" fill="#2787e3" stroke="#1d5fae" stroke-width="0.6"/>
<circle cx="65.6" cy="384.2" r="2.85" fill="#2787e3" stroke="#1d5fae" stroke-width="0.6"/>
<circle cx="66.5" cy="380.6" r="2.85" fill="#2787e3" stroke="#1d5fae" stroke-width="0.6"/>
<circle cx="60.3" cy="386" r="2.85" fill="#2787e3" stroke="#1d5fae" stroke-width="0.6"/>
<circle cx="48.8" cy="387.7" r="2.85" fill="#2787e3" stroke="#1d5fae" stroke-width="0.6"/>
<circle cx="41.8" cy="379.8" r="2.85" fill="#2787e3" stroke="#1d5fae" stroke-width="0.6"/>
<circle cx="42.7" cy="377.1" r="2.85" fill="#2787e3" stroke="#1d5fae" stroke-width="0.6"/>
<circle cx="71.8" cy="378.9" r="2.85" fill="#2787e3" stroke="#1d5fae" stroke-width="0.6"/>
<line x1="40.9" y1="406.4" x2="202.2" y2="245" stroke="#555555" stroke-width="1.15" stroke-dasharray="8.8 3.5"/>
<line x1="41.5" y1="381" x2="175.8" y2="357.8" stroke="#981818" stroke-width="1.45"/>
<rect x="40.9" y="245" width="161.3" height="161.4" fill="none" stroke="#2a2a2a" stroke-width="1.15"/>
<line x1="40.9" y1="406.4" x2="40.9" y2="409.4" stroke="#2a2a2a" stroke-width="1.15"/>
<line x1="37.9" y1="406.4" x2="40.9" y2="406.4" stroke="#2a2a2a" stroke-width="1.15"/>
<text transform="translate(40.9 423.5) scale(1 1)" font-size="12" text-anchor="middle">0</text>
<text transform="translate(29.4 406.4) rotate(-90) scale(1 1)" font-size="12" text-anchor="middle">0</text>
<line x1="94.67" y1="406.4" x2="94.67" y2="409.4" stroke="#2a2a2a" stroke-width="1.15"/>
<line x1="37.9" y1="352.6" x2="40.9" y2="352.6" stroke="#2a2a2a" stroke-width="1.15"/>
<text transform="translate(94.67 423.5) scale(1 1)" font-size="12" text-anchor="middle">100</text>
<text transform="translate(29.4 352.6) rotate(-90) scale(1 1)" font-size="12" text-anchor="middle">100</text>
<line x1="148.43" y1="406.4" x2="148.43" y2="409.4" stroke="#2a2a2a" stroke-width="1.15"/>
<line x1="37.9" y1="298.8" x2="40.9" y2="298.8" stroke="#2a2a2a" stroke-width="1.15"/>
<text transform="translate(148.43 423.5) scale(1 1)" font-size="12" text-anchor="middle">200</text>
<text transform="translate(29.4 298.8) rotate(-90) scale(1 1)" font-size="12" text-anchor="middle">200</text>
<line x1="202.2" y1="406.4" x2="202.2" y2="409.4" stroke="#2a2a2a" stroke-width="1.15"/>
<line x1="37.9" y1="245" x2="40.9" y2="245" stroke="#2a2a2a" stroke-width="1.15"/>
<text transform="translate(202.2 423.5) scale(1 1)" font-size="12" text-anchor="middle">300</text>
<text transform="translate(29.4 245) rotate(-90) scale(1 1)" font-size="12" text-anchor="middle">300</text>
<text transform="translate(94 239.3) scale(1 1)" font-size="15.9" textLength="66.6" lengthAdjust="spacingAndGlyphs">(RF-2002)</text>
<text transform="translate(61.3 439.3) scale(1 1)" font-size="16" textLength="134.4" lengthAdjust="spacingAndGlyphs">Observed AGB (t/ha)</text>
<text transform="translate(16 385.7) rotate(-90) scale(1 1)" font-size="16" textLength="131.7" lengthAdjust="spacingAndGlyphs">Preditced AGB (t/ha)</text>
<text transform="translate(46.3 258.1) scale(1 1)" font-size="13" textLength="73.8" lengthAdjust="spacingAndGlyphs">y=0.35x+44.21</text>
<text transform="translate(46.3 271.8) scale(1 1)" font-size="13" textLength="40.5" lengthAdjust="spacingAndGlyphs">R²=0.35</text>
<text transform="translate(46.3 285.6) scale(1 1)" font-size="13" textLength="68.2" lengthAdjust="spacingAndGlyphs">RMSE=56.67</text>
<text transform="translate(115.3 285.8) scale(1 1)" font-size="15.5" textLength="22.5" lengthAdjust="spacingAndGlyphs">t/ha</text></g>
<g id="p22"><circle cx="282.6" cy="365.6" r="2.85" fill="#2787e3" stroke="#1d5fae" stroke-width="0.6"/>
<circle cx="295.9" cy="365.6" r="2.85" fill="#2787e3" stroke="#1d5fae" stroke-width="0.6"/>
<circle cx="305.2" cy="365.6" r="2.85" fill="#2787e3" stroke="#1d5fae" stroke-width="0.6"/>
<circle cx="312.2" cy="361.2" r="2.85" fill="#2787e3" stroke="#1d5fae" stroke-width="0.6"/>
<circle cx="326.8" cy="358.6" r="2.85" fill="#2787e3" stroke="#1d5fae" stroke-width="0.6"/>
<circle cx="322.8" cy="366.5" r="2.85" fill="#2787e3" stroke="#1d5fae" stroke-width="0.6"/>
<circle cx="279.5" cy="371.8" r="2.85" fill="#2787e3" stroke="#1d5fae" stroke-width="0.6"/>
<circle cx="294.6" cy="374.5" r="2.85" fill="#2787e3" stroke="#1d5fae" stroke-width="0.6"/>
<circle cx="299" cy="375.3" r="2.85" fill="#2787e3" stroke="#1d5fae" stroke-width="0.6"/>
<circle cx="308.7" cy="382.4" r="2.85" fill="#2787e3" stroke="#1d5fae" stroke-width="0.6"/>
<circle cx="285.7" cy="379.8" r="2.85" fill="#2787e3" stroke="#1d5fae" stroke-width="0.6"/>
<circle cx="276.9" cy="385.1" r="2.85" fill="#2787e3" stroke="#1d5fae" stroke-width="0.6"/>
<circle cx="329.9" cy="373.6" r="2.85" fill="#2787e3" stroke="#1d5fae" stroke-width="0.6"/>
<circle cx="332.6" cy="366.5" r="2.85" fill="#2787e3" stroke="#1d5fae" stroke-width="0.6"/>
<circle cx="336.2" cy="364.8" r="2.85" fill="#2787e3" stroke="#1d5fae" stroke-width="0.6"/>
<circle cx="351.7" cy="367.5" r="2.85" fill="#2787e3" stroke="#1d5fae" stroke-width="0.6"/>
<circle cx="372.6" cy="365.5" r="2.85" fill="#2787e3" stroke="#1d5fae" stroke-width="0.6"/>
<circle cx="393.1" cy="362.4" r="2.85" fill="#2787e3" stroke="#1d5fae" stroke-width="0.6"/>
<circle cx="412" cy="362.9" r="2.85" fill="#2787e3" stroke="#1d5fae" stroke-width="0.6"/>
<circle cx="376.1" cy="379.9" r="2.85" fill="#2787e3" stroke="#1d5fae" stroke-width="0.6"/>
<circle cx="332.3" cy="378.7" r="2.85" fill="#2787e3" stroke="#1d5fae" stroke-width="0.6"/>
<circle cx="306.5" cy="359.4" r="2.85" fill="#f8640c" stroke="#e0480e" stroke-width="0.6"/>
<circle cx="312.2" cy="363.4" r="2.85" fill="#f8640c" stroke="#e0480e" stroke-width="0.6"/>
<circle cx="282.2" cy="368.7" r="2.85" fill="#f8640c" stroke="#e0480e" stroke-width="0.6"/>
<circle cx="295.9" cy="370" r="2.85" fill="#f8640c" stroke="#e0480e" stroke-width="0.6"/>
<circle cx="305.2" cy="370.9" r="2.85" fill="#f8640c" stroke="#e0480e" stroke-width="0.6"/>
<circle cx="306" cy="373.6" r="2.85" fill="#f8640c" stroke="#e0480e" stroke-width="0.6"/>
<circle cx="324.6" cy="363.9" r="2.85" fill="#f8640c" stroke="#e0480e" stroke-width="0.6"/>
<circle cx="327.2" cy="363" r="2.85" fill="#f8640c" stroke="#e0480e" stroke-width="0.6"/>
<circle cx="334.3" cy="361.2" r="2.85" fill="#f8640c" stroke="#e0480e" stroke-width="0.6"/>
<circle cx="333.4" cy="369.2" r="2.85" fill="#f8640c" stroke="#e0480e" stroke-width="0.6"/>
<circle cx="329.9" cy="378" r="2.85" fill="#f8640c" stroke="#e0480e" stroke-width="0.6"/>
<circle cx="332.6" cy="380.6" r="2.85" fill="#f8640c" stroke="#e0480e" stroke-width="0.6"/>
<circle cx="280.4" cy="375.3" r="2.85" fill="#f8640c" stroke="#e0480e" stroke-width="0.6"/>
<circle cx="281.3" cy="379.8" r="2.85" fill="#f8640c" stroke="#e0480e" stroke-width="0.6"/>
<circle cx="278.7" cy="384.2" r="2.85" fill="#f8640c" stroke="#e0480e" stroke-width="0.6"/>
<circle cx="278.7" cy="389.5" r="2.85" fill="#f8640c" stroke="#e0480e" stroke-width="0.6"/>
<circle cx="283.1" cy="386" r="2.85" fill="#f8640c" stroke="#e0480e" stroke-width="0.6"/>
<circle cx="286.6" cy="382.4" r="2.85" fill="#f8640c" stroke="#e0480e" stroke-width="0.6"/>
<circle cx="290.1" cy="381.5" r="2.85" fill="#f8640c" stroke="#e0480e" stroke-width="0.6"/>
<circle cx="293.7" cy="379.8" r="2.85" fill="#f8640c" stroke="#e0480e" stroke-width="0.6"/>
<circle cx="297.2" cy="378.9" r="2.85" fill="#f8640c" stroke="#e0480e" stroke-width="0.6"/>
<circle cx="300.7" cy="377.1" r="2.85" fill="#f8640c" stroke="#e0480e" stroke-width="0.6"/>
<circle cx="304.3" cy="375.3" r="2.85" fill="#f8640c" stroke="#e0480e" stroke-width="0.6"/>
<circle cx="306.9" cy="377.1" r="2.85" fill="#f8640c" stroke="#e0480e" stroke-width="0.6"/>
<circle cx="299.9" cy="386" r="2.85" fill="#f8640c" stroke="#e0480e" stroke-width="0.6"/>
<circle cx="306" cy="385.1" r="2.85" fill="#f8640c" stroke="#e0480e" stroke-width="0.6"/>
<circle cx="308.7" cy="384.2" r="2.85" fill="#f8640c" stroke="#e0480e" stroke-width="0.6"/>
<circle cx="287.5" cy="387.7" r="2.85" fill="#f8640c" stroke="#e0480e" stroke-width="0.6"/>
<circle cx="291.9" cy="385.1" r="2.85" fill="#f8640c" stroke="#e0480e" stroke-width="0.6"/>
<circle cx="295.4" cy="384.2" r="2.85" fill="#f8640c" stroke="#e0480e" stroke-width="0.6"/>
<circle cx="281.3" cy="391.2" r="2.85" fill="#f8640c" stroke="#e0480e" stroke-width="0.6"/>
<circle cx="284.8" cy="389.5" r="2.85" fill="#f8640c" stroke="#e0480e" stroke-width="0.6"/>
<circle cx="334.3" cy="361.2" r="2.85" fill="#f8640c" stroke="#e0480e" stroke-width="0.6"/>
<circle cx="351.7" cy="362.1" r="2.85" fill="#f8640c" stroke="#e0480e" stroke-width="0.6"/>
<circle cx="351.7" cy="369.7" r="2.85" fill="#f8640c" stroke="#e0480e" stroke-width="0.6"/>
<circle cx="372.6" cy="363.2" r="2.85" fill="#f8640c" stroke="#e0480e" stroke-width="0.6"/>
<circle cx="393.1" cy="363.2" r="2.85" fill="#f8640c" stroke="#e0480e" stroke-width="0.6"/>
<circle cx="412" cy="360.1" r="2.85" fill="#f8640c" stroke="#e0480e" stroke-width="0.6"/>
<circle cx="376.1" cy="378.4" r="2.85" fill="#f8640c" stroke="#e0480e" stroke-width="0.6"/>
<circle cx="335.4" cy="369.4" r="2.85" fill="#f8640c" stroke="#e0480e" stroke-width="0.6"/>
<circle cx="335.4" cy="374" r="2.85" fill="#f8640c" stroke="#e0480e" stroke-width="0.6"/>
<circle cx="332.3" cy="380.5" r="2.85" fill="#f8640c" stroke="#e0480e" stroke-width="0.6"/>
<circle cx="331.5" cy="369.4" r="2.85" fill="#f8640c" stroke="#e0480e" stroke-width="0.6"/>
<line x1="276.5" y1="407" x2="438.5" y2="245.5" stroke="#555555" stroke-width="1.15" stroke-dasharray="8.8 3.5"/>
<rect x="276.5" y="245.5" width="162" height="161.5" fill="none" stroke="#2a2a2a" stroke-width="1.15"/>
<line x1="276.5" y1="407" x2="276.5" y2="410" stroke="#2a2a2a" stroke-width="1.15"/>
<line x1="273.5" y1="407" x2="276.5" y2="407" stroke="#2a2a2a" stroke-width="1.15"/>
<text transform="translate(276.5 423.5) scale(1 1)" font-size="12" text-anchor="middle">0</text>
<text transform="translate(265 407) rotate(-90) scale(1 1)" font-size="12" text-anchor="middle">0</text>
<line x1="330.5" y1="407" x2="330.5" y2="410" stroke="#2a2a2a" stroke-width="1.15"/>
<line x1="273.5" y1="353.17" x2="276.5" y2="353.17" stroke="#2a2a2a" stroke-width="1.15"/>
<text transform="translate(330.5 423.5) scale(1 1)" font-size="12" text-anchor="middle">100</text>
<text transform="translate(265 353.17) rotate(-90) scale(1 1)" font-size="12" text-anchor="middle">100</text>
<line x1="384.5" y1="407" x2="384.5" y2="410" stroke="#2a2a2a" stroke-width="1.15"/>
<line x1="273.5" y1="299.33" x2="276.5" y2="299.33" stroke="#2a2a2a" stroke-width="1.15"/>
<text transform="translate(384.5 423.5) scale(1 1)" font-size="12" text-anchor="middle">200</text>
<text transform="translate(265 299.33) rotate(-90) scale(1 1)" font-size="12" text-anchor="middle">200</text>
<line x1="438.5" y1="407" x2="438.5" y2="410" stroke="#2a2a2a" stroke-width="1.15"/>
<line x1="273.5" y1="245.5" x2="276.5" y2="245.5" stroke="#2a2a2a" stroke-width="1.15"/>
<text transform="translate(438.5 423.5) scale(1 1)" font-size="12" text-anchor="middle">300</text>
<text transform="translate(265 245.5) rotate(-90) scale(1 1)" font-size="12" text-anchor="middle">300</text>
<text transform="translate(299.2 241) scale(1 1)" font-size="15.9" textLength="111.7" lengthAdjust="spacingAndGlyphs">(RF/RFOK-2002)</text>
<text transform="translate(297.7 437.8) scale(1 1)" font-size="16" textLength="134.5" lengthAdjust="spacingAndGlyphs">Observed AGB (t/ha)</text>
<text transform="translate(247 390.8) rotate(-90) scale(1 1)" font-size="16" textLength="131.6" lengthAdjust="spacingAndGlyphs">Preditced AGB (t/ha)</text>
<circle cx="284.6" cy="254.6" r="3" fill="#2787e3" stroke="#1d5fae" stroke-width="0.5"/>
<text transform="translate(290.3 258.1) scale(1 1)" font-size="13" textLength="15.6" lengthAdjust="spacingAndGlyphs">RF</text>
<text transform="translate(329.3 258.1) scale(1 1)" font-size="13" textLength="48.2" lengthAdjust="spacingAndGlyphs">(R²=0.35)</text>
<circle cx="284.6" cy="268.1" r="2.4" fill="#f8640c" stroke="#e0480e" stroke-width="0.5"/>
<text transform="translate(290.3 272.2) scale(1 1)" font-size="13" textLength="32.7" lengthAdjust="spacingAndGlyphs">RFOK</text>
<text transform="translate(329.3 272.2) scale(1 1)" font-size="13" textLength="48.2" lengthAdjust="spacingAndGlyphs">(R²=0.41)</text></g>
<g id="p23"><circle cx="518.2" cy="370.4" r="2.85" fill="#f8640c" stroke="#e0480e" stroke-width="0.6"/>
<circle cx="565" cy="377.7" r="2.85" fill="#f8640c" stroke="#e0480e" stroke-width="0.6"/>
<circle cx="544.7" cy="390.1" r="2.85" fill="#f8640c" stroke="#e0480e" stroke-width="0.6"/>
<circle cx="512.6" cy="386" r="2.85" fill="#f8640c" stroke="#e0480e" stroke-width="0.6"/>
<circle cx="569.4" cy="363.1" r="2.85" fill="#f8640c" stroke="#e0480e" stroke-width="0.6"/>
<circle cx="587.6" cy="375.3" r="2.85" fill="#f8640c" stroke="#e0480e" stroke-width="0.6"/>
<circle cx="647.2" cy="361.2" r="2.85" fill="#f8640c" stroke="#e0480e" stroke-width="0.6"/>
<circle cx="611.4" cy="377" r="2.85" fill="#f8640c" stroke="#e0480e" stroke-width="0.6"/>
<circle cx="569.5" cy="363.9" r="2.85" fill="#f8640c" stroke="#e0480e" stroke-width="0.6"/>
<circle cx="571.5" cy="370.2" r="2.85" fill="#f8640c" stroke="#e0480e" stroke-width="0.6"/>
<circle cx="542.5" cy="361.8" r="2.85" fill="#2ee03c" stroke="#3f7a5a" stroke-width="0.6"/>
<circle cx="548.2" cy="365.8" r="2.85" fill="#2ee03c" stroke="#3f7a5a" stroke-width="0.6"/>
<circle cx="518.2" cy="371.5" r="2.85" fill="#2ee03c" stroke="#3f7a5a" stroke-width="0.6"/>
<circle cx="531.4" cy="372.8" r="2.85" fill="#2ee03c" stroke="#3f7a5a" stroke-width="0.6"/>
<circle cx="540.3" cy="374.6" r="2.85" fill="#2ee03c" stroke="#3f7a5a" stroke-width="0.6"/>
<circle cx="542" cy="377.7" r="2.85" fill="#2ee03c" stroke="#3f7a5a" stroke-width="0.6"/>
<circle cx="559.7" cy="366.6" r="2.85" fill="#2ee03c" stroke="#3f7a5a" stroke-width="0.6"/>
<circle cx="561.5" cy="365.8" r="2.85" fill="#2ee03c" stroke="#3f7a5a" stroke-width="0.6"/>
<circle cx="569.4" cy="366.2" r="2.85" fill="#2ee03c" stroke="#3f7a5a" stroke-width="0.6"/>
<circle cx="567.7" cy="372.4" r="2.85" fill="#2ee03c" stroke="#3f7a5a" stroke-width="0.6"/>
<circle cx="566.8" cy="382.1" r="2.85" fill="#2ee03c" stroke="#3f7a5a" stroke-width="0.6"/>
<circle cx="565" cy="380" r="2.85" fill="#2ee03c" stroke="#3f7a5a" stroke-width="0.6"/>
<circle cx="515.5" cy="378.6" r="2.85" fill="#2ee03c" stroke="#3f7a5a" stroke-width="0.6"/>
<circle cx="517.3" cy="383" r="2.85" fill="#2ee03c" stroke="#3f7a5a" stroke-width="0.6"/>
<circle cx="514.7" cy="387.4" r="2.85" fill="#2ee03c" stroke="#3f7a5a" stroke-width="0.6"/>
<circle cx="513.8" cy="392.7" r="2.85" fill="#2ee03c" stroke="#3f7a5a" stroke-width="0.6"/>
<circle cx="519.1" cy="386.5" r="2.85" fill="#2ee03c" stroke="#3f7a5a" stroke-width="0.6"/>
<circle cx="522.6" cy="384.8" r="2.85" fill="#2ee03c" stroke="#3f7a5a" stroke-width="0.6"/>
<circle cx="526.1" cy="383" r="2.85" fill="#2ee03c" stroke="#3f7a5a" stroke-width="0.6"/>
<circle cx="529.7" cy="381.2" r="2.85" fill="#2ee03c" stroke="#3f7a5a" stroke-width="0.6"/>
<circle cx="533.2" cy="382.1" r="2.85" fill="#2ee03c" stroke="#3f7a5a" stroke-width="0.6"/>
<circle cx="536.7" cy="381.2" r="2.85" fill="#2ee03c" stroke="#3f7a5a" stroke-width="0.6"/>
<circle cx="540.3" cy="380.3" r="2.85" fill="#2ee03c" stroke="#3f7a5a" stroke-width="0.6"/>
<circle cx="535" cy="389.2" r="2.85" fill="#2ee03c" stroke="#3f7a5a" stroke-width="0.6"/>
<circle cx="542" cy="388.3" r="2.85" fill="#2ee03c" stroke="#3f7a5a" stroke-width="0.6"/>
<circle cx="544.7" cy="387.4" r="2.85" fill="#2ee03c" stroke="#3f7a5a" stroke-width="0.6"/>
<circle cx="529.7" cy="386.5" r="2.85" fill="#2ee03c" stroke="#3f7a5a" stroke-width="0.6"/>
<circle cx="525.3" cy="389.2" r="2.85" fill="#2ee03c" stroke="#3f7a5a" stroke-width="0.6"/>
<circle cx="520.8" cy="391" r="2.85" fill="#2ee03c" stroke="#3f7a5a" stroke-width="0.6"/>
<circle cx="517.3" cy="394.5" r="2.85" fill="#2ee03c" stroke="#3f7a5a" stroke-width="0.6"/>
<circle cx="569.5" cy="365.2" r="2.85" fill="#2ee03c" stroke="#3f7a5a" stroke-width="0.6"/>
<circle cx="587.6" cy="364.4" r="2.85" fill="#2ee03c" stroke="#3f7a5a" stroke-width="0.6"/>
<circle cx="587.6" cy="372.1" r="2.85" fill="#2ee03c" stroke="#3f7a5a" stroke-width="0.6"/>
<circle cx="608.1" cy="365.7" r="2.85" fill="#2ee03c" stroke="#3f7a5a" stroke-width="0.6"/>
<circle cx="628.7" cy="365.3" r="2.85" fill="#2ee03c" stroke="#3f7a5a" stroke-width="0.6"/>
<circle cx="647.2" cy="362.7" r="2.85" fill="#2ee03c" stroke="#3f7a5a" stroke-width="0.6"/>
<circle cx="611.4" cy="378.6" r="2.85" fill="#2ee03c" stroke="#3f7a5a" stroke-width="0.6"/>
<circle cx="570" cy="371" r="2.85" fill="#2ee03c" stroke="#3f7a5a" stroke-width="0.6"/>
<circle cx="570" cy="376.5" r="2.85" fill="#2ee03c" stroke="#3f7a5a" stroke-width="0.6"/>
<circle cx="568.4" cy="382.8" r="2.85" fill="#2ee03c" stroke="#3f7a5a" stroke-width="0.6"/>
<circle cx="513.8" cy="389.2" r="2.85" fill="#2ee03c" stroke="#3f7a5a" stroke-width="0.6"/>
<circle cx="517.3" cy="389.2" r="2.85" fill="#2ee03c" stroke="#3f7a5a" stroke-width="0.6"/>
<circle cx="520.8" cy="383" r="2.85" fill="#2ee03c" stroke="#3f7a5a" stroke-width="0.6"/>
<circle cx="515.5" cy="382.1" r="2.85" fill="#2ee03c" stroke="#3f7a5a" stroke-width="0.6"/>
<circle cx="526.1" cy="387.4" r="2.85" fill="#2ee03c" stroke="#3f7a5a" stroke-width="0.6"/>
<circle cx="533.2" cy="386.5" r="2.85" fill="#2ee03c" stroke="#3f7a5a" stroke-width="0.6"/>
<circle cx="538.5" cy="385.6" r="2.85" fill="#2ee03c" stroke="#3f7a5a" stroke-width="0.6"/>
<circle cx="522.6" cy="391" r="2.85" fill="#2ee03c" stroke="#3f7a5a" stroke-width="0.6"/>
<line x1="512.4" y1="409.5" x2="674" y2="248.5" stroke="#555555" stroke-width="1.15" stroke-dasharray="8.8 3.5"/>
<rect x="512.4" y="248.5" width="161.6" height="161" fill="none" stroke="#2a2a2a" stroke-width="1.15"/>
<line x1="512.4" y1="409.5" x2="512.4" y2="412.5" stroke="#2a2a2a" stroke-width="1.15"/>
<line x1="509.4" y1="409.5" x2="512.4" y2="409.5" stroke="#2a2a2a" stroke-width="1.15"/>
<text transform="translate(512.4 425.8) scale(1 1)" font-size="12" text-anchor="middle">0</text>
<text transform="translate(500.9 409.5) rotate(-90) scale(1 1)" font-size="12" text-anchor="middle">0</text>
<line x1="566.27" y1="409.5" x2="566.27" y2="412.5" stroke="#2a2a2a" stroke-width="1.15"/>
<line x1="509.4" y1="355.83" x2="512.4" y2="355.83" stroke="#2a2a2a" stroke-width="1.15"/>
<text transform="translate(566.27 425.8) scale(1 1)" font-size="12" text-anchor="middle">100</text>
<text transform="translate(500.9 355.83) rotate(-90) scale(1 1)" font-size="12" text-anchor="middle">100</text>
<line x1="620.13" y1="409.5" x2="620.13" y2="412.5" stroke="#2a2a2a" stroke-width="1.15"/>
<line x1="509.4" y1="302.17" x2="512.4" y2="302.17" stroke="#2a2a2a" stroke-width="1.15"/>
<text transform="translate(620.13 425.8) scale(1 1)" font-size="12" text-anchor="middle">200</text>
<text transform="translate(500.9 302.17) rotate(-90) scale(1 1)" font-size="12" text-anchor="middle">200</text>
<line x1="674" y1="409.5" x2="674" y2="412.5" stroke="#2a2a2a" stroke-width="1.15"/>
<line x1="509.4" y1="248.5" x2="512.4" y2="248.5" stroke="#2a2a2a" stroke-width="1.15"/>
<text transform="translate(674 425.8) scale(1 1)" font-size="12" text-anchor="middle">300</text>
<text transform="translate(500.9 248.5) rotate(-90) scale(1 1)" font-size="12" text-anchor="middle">300</text>
<text transform="translate(525.6 242.7) scale(1 1)" font-size="15.9" textLength="133" lengthAdjust="spacingAndGlyphs">(RFOK/RFCK-2002)</text>
<text transform="translate(533 438.7) scale(1 1)" font-size="16" textLength="135" lengthAdjust="spacingAndGlyphs">Observed AGB (t/ha)</text>
<text transform="translate(483.6 393.6) rotate(-90) scale(1 1)" font-size="16" textLength="131.9" lengthAdjust="spacingAndGlyphs">Preditced AGB (t/ha)</text>
<circle cx="518.8" cy="255.9" r="2.8" fill="#f8640c" stroke="#e0480e" stroke-width="0.5"/>
<text transform="translate(524.4 259.9) scale(1 1)" font-size="13" textLength="32.7" lengthAdjust="spacingAndGlyphs">RFOK</text>
<text transform="translate(564.8 259.9) scale(1 1)" font-size="13" textLength="48.6" lengthAdjust="spacingAndGlyphs">(R²=0.40)</text>
<circle cx="518.8" cy="270.8" r="2.8" fill="#2ee03c" stroke="#3f7a5a" stroke-width="0.5"/>
<text transform="translate(524.4 274.6) scale(1 1)" font-size="13" textLength="32.5" lengthAdjust="spacingAndGlyphs">RFCK</text>
<text transform="translate(564.8 274.6) scale(1 1)" font-size="13" textLength="48.6" lengthAdjust="spacingAndGlyphs">(R²=0.41)</text></g>
<g id="p31"><circle cx="82.6" cy="583" r="2.85" fill="#2787e3" stroke="#1d5fae" stroke-width="0.6"/>
<circle cx="82.8" cy="585.9" r="2.85" fill="#2787e3" stroke="#1d5fae" stroke-width="0.6"/>
<circle cx="88.7" cy="594.8" r="2.85" fill="#2787e3" stroke="#1d5fae" stroke-width="0.6"/>
<circle cx="91.6" cy="597.1" r="2.85" fill="#2787e3" stroke="#1d5fae" stroke-width="0.6"/>
<circle cx="86.9" cy="603" r="2.85" fill="#2787e3" stroke="#1d5fae" stroke-width="0.6"/>
<circle cx="89.9" cy="607.7" r="2.85" fill="#2787e3" stroke="#1d5fae" stroke-width="0.6"/>
<circle cx="93.4" cy="610.7" r="2.85" fill="#2787e3" stroke="#1d5fae" stroke-width="0.6"/>
<circle cx="94.5" cy="612.5" r="2.85" fill="#2787e3" stroke="#1d5fae" stroke-width="0.6"/>
<circle cx="77.5" cy="618.4" r="2.85" fill="#2787e3" stroke="#1d5fae" stroke-width="0.6"/>
<circle cx="73.4" cy="613.6" r="2.85" fill="#2787e3" stroke="#1d5fae" stroke-width="0.6"/>
<circle cx="72.2" cy="611.9" r="2.85" fill="#2787e3" stroke="#1d5fae" stroke-width="0.6"/>
<circle cx="74.5" cy="610.7" r="2.85" fill="#2787e3" stroke="#1d5fae" stroke-width="0.6"/>
<circle cx="66.3" cy="600.1" r="2.85" fill="#2787e3" stroke="#1d5fae" stroke-width="0.6"/>
<circle cx="72.2" cy="601.3" r="2.85" fill="#2787e3" stroke="#1d5fae" stroke-width="0.6"/>
<circle cx="76.9" cy="603.6" r="2.85" fill="#2787e3" stroke="#1d5fae" stroke-width="0.6"/>
<circle cx="61.6" cy="603.6" r="2.85" fill="#2787e3" stroke="#1d5fae" stroke-width="0.6"/>
<circle cx="52.1" cy="606" r="2.85" fill="#2787e3" stroke="#1d5fae" stroke-width="0.6"/>
<circle cx="51" cy="609.5" r="2.85" fill="#2787e3" stroke="#1d5fae" stroke-width="0.6"/>
<circle cx="46.3" cy="611.9" r="2.85" fill="#2787e3" stroke="#1d5fae" stroke-width="0.6"/>
<circle cx="45.1" cy="615.4" r="2.85" fill="#2787e3" stroke="#1d5fae" stroke-width="0.6"/>
<circle cx="58" cy="609.5" r="2.85" fill="#2787e3" stroke="#1d5fae" stroke-width="0.6"/>
<circle cx="65.1" cy="608.3" r="2.85" fill="#2787e3" stroke="#1d5fae" stroke-width="0.6"/>
<circle cx="69.8" cy="609.5" r="2.85" fill="#2787e3" stroke="#1d5fae" stroke-width="0.6"/>
<circle cx="59.2" cy="614.2" r="2.85" fill="#2787e3" stroke="#1d5fae" stroke-width="0.6"/>
<circle cx="62.8" cy="618.9" r="2.85" fill="#2787e3" stroke="#1d5fae" stroke-width="0.6"/>
<circle cx="58" cy="621.3" r="2.85" fill="#2787e3" stroke="#1d5fae" stroke-width="0.6"/>
<circle cx="53.3" cy="617.8" r="2.85" fill="#2787e3" stroke="#1d5fae" stroke-width="0.6"/>
<circle cx="48.6" cy="620.1" r="2.85" fill="#2787e3" stroke="#1d5fae" stroke-width="0.6"/>
<circle cx="43.9" cy="623.7" r="2.85" fill="#2787e3" stroke="#1d5fae" stroke-width="0.6"/>
<circle cx="45.1" cy="627.2" r="2.85" fill="#2787e3" stroke="#1d5fae" stroke-width="0.6"/>
<circle cx="41.5" cy="630.7" r="2.85" fill="#2787e3" stroke="#1d5fae" stroke-width="0.6"/>
<circle cx="42.7" cy="633.1" r="2.85" fill="#2787e3" stroke="#1d5fae" stroke-width="0.6"/>
<circle cx="73.4" cy="608.3" r="2.85" fill="#2787e3" stroke="#1d5fae" stroke-width="0.6"/>
<circle cx="101.3" cy="569.4" r="2.85" fill="#2787e3" stroke="#1d5fae" stroke-width="0.6"/>
<circle cx="111.3" cy="581.6" r="2.85" fill="#2787e3" stroke="#1d5fae" stroke-width="0.6"/>
<circle cx="148" cy="589.1" r="2.85" fill="#2787e3" stroke="#1d5fae" stroke-width="0.6"/>
<circle cx="124.1" cy="600.4" r="2.85" fill="#2787e3" stroke="#1d5fae" stroke-width="0.6"/>
<circle cx="102.7" cy="598.3" r="2.85" fill="#2787e3" stroke="#1d5fae" stroke-width="0.6"/>
<circle cx="102.1" cy="606.3" r="2.85" fill="#2787e3" stroke="#1d5fae" stroke-width="0.6"/>
<circle cx="89.1" cy="594.8" r="2.85" fill="#2787e3" stroke="#1d5fae" stroke-width="0.6"/>
<circle cx="92.1" cy="597.1" r="2.85" fill="#2787e3" stroke="#1d5fae" stroke-width="0.6"/>
<circle cx="90.3" cy="607.7" r="2.85" fill="#2787e3" stroke="#1d5fae" stroke-width="0.6"/>
<circle cx="93.2" cy="608.3" r="2.85" fill="#2787e3" stroke="#1d5fae" stroke-width="0.6"/>
<circle cx="182.3" cy="541.3" r="0.9" fill="#3cf03c"/>
<circle cx="56.6" cy="611.3" r="2.85" fill="#2787e3" stroke="#1d5fae" stroke-width="0.6"/>
<circle cx="60.7" cy="615.4" r="2.85" fill="#2787e3" stroke="#1d5fae" stroke-width="0.6"/>
<circle cx="54.5" cy="617.4" r="2.85" fill="#2787e3" stroke="#1d5fae" stroke-width="0.6"/>
<circle cx="48.4" cy="617.4" r="2.85" fill="#2787e3" stroke="#1d5fae" stroke-width="0.6"/>
<circle cx="64.7" cy="609.3" r="2.85" fill="#2787e3" stroke="#1d5fae" stroke-width="0.6"/>
<circle cx="44" cy="629" r="2.85" fill="#2787e3" stroke="#1d5fae" stroke-width="0.6"/>
<circle cx="46" cy="631" r="2.85" fill="#2787e3" stroke="#1d5fae" stroke-width="0.6"/>
<line x1="38.5" y1="642" x2="201.2" y2="479.5" stroke="#555555" stroke-width="1.15" stroke-dasharray="8.8 3.5"/>
<line x1="40.9" y1="620.7" x2="148" y2="578.6" stroke="#981818" stroke-width="1.45"/>
<rect x="38.5" y="479.5" width="162.7" height="162.5" fill="none" stroke="#2a2a2a" stroke-width="1.15"/>
<line x1="38.5" y1="642" x2="38.5" y2="645" stroke="#2a2a2a" stroke-width="1.15"/>
<line x1="35.5" y1="642" x2="38.5" y2="642" stroke="#2a2a2a" stroke-width="1.15"/>
<text transform="translate(38.5 658.4) scale(1 1)" font-size="12" text-anchor="middle">0</text>
<text transform="translate(27 642) rotate(-90) scale(1 1)" font-size="12" text-anchor="middle">0</text>
<line x1="92.73" y1="642" x2="92.73" y2="645" stroke="#2a2a2a" stroke-width="1.15"/>
<line x1="35.5" y1="587.83" x2="38.5" y2="587.83" stroke="#2a2a2a" stroke-width="1.15"/>
<text transform="translate(92.73 658.4) scale(1 1)" font-size="12" text-anchor="middle">100</text>
<text transform="translate(27 587.83) rotate(-90) scale(1 1)" font-size="12" text-anchor="middle">100</text>
<line x1="146.97" y1="642" x2="146.97" y2="645" stroke="#2a2a2a" stroke-width="1.15"/>
<line x1="35.5" y1="533.67" x2="38.5" y2="533.67" stroke="#2a2a2a" stroke-width="1.15"/>
<text transform="translate(146.97 658.4) scale(1 1)" font-size="12" text-anchor="middle">200</text>
<text transform="translate(27 533.67) rotate(-90) scale(1 1)" font-size="12" text-anchor="middle">200</text>
<line x1="201.2" y1="642" x2="201.2" y2="645" stroke="#2a2a2a" stroke-width="1.15"/>
<line x1="35.5" y1="479.5" x2="38.5" y2="479.5" stroke="#2a2a2a" stroke-width="1.15"/>
<text transform="translate(201.2 658.4) scale(1 1)" font-size="12" text-anchor="middle">300</text>
<text transform="translate(27 479.5) rotate(-90) scale(1 1)" font-size="12" text-anchor="middle">300</text>
<text transform="translate(92.1 473.7) scale(1 1)" font-size="15.9" textLength="66.6" lengthAdjust="spacingAndGlyphs">(RF-2010)</text>
<text transform="translate(61 673.6) scale(1 1)" font-size="16" textLength="134.4" lengthAdjust="spacingAndGlyphs">Observed AGB (t/ha)</text>
<text transform="translate(13.6 623.8) rotate(-90) scale(1 1)" font-size="16" textLength="132" lengthAdjust="spacingAndGlyphs">Preditced AGB (t/ha)</text>
<text transform="translate(49 497.1) scale(1 1)" font-size="13" textLength="74.4" lengthAdjust="spacingAndGlyphs">y=0.35x+44.21</text>
<text transform="translate(49 510.9) scale(1 1)" font-size="13" textLength="40.7" lengthAdjust="spacingAndGlyphs">R²=0.49</text>
<text transform="translate(49 525) scale(1 1)" font-size="13" textLength="67.6" lengthAdjust="spacingAndGlyphs">RMSE=31.21</text>
<text transform="translate(116.5 525.7) scale(1 1)" font-size="15.5" textLength="23.8" lengthAdjust="spacingAndGlyphs">t/ha</text></g>
<g id="p32"><circle cx="321.2" cy="583" r="2.85" fill="#2787e3" stroke="#1d5fae" stroke-width="0.6"/>
<circle cx="327.1" cy="595.4" r="2.85" fill="#2787e3" stroke="#1d5fae" stroke-width="0.6"/>
<circle cx="330.6" cy="598.3" r="2.85" fill="#2787e3" stroke="#1d5fae" stroke-width="0.6"/>
<circle cx="317.1" cy="605.4" r="2.85" fill="#2787e3" stroke="#1d5fae" stroke-width="0.6"/>
<circle cx="300.6" cy="604.2" r="2.85" fill="#2787e3" stroke="#1d5fae" stroke-width="0.6"/>
<circle cx="285.3" cy="613" r="2.85" fill="#2787e3" stroke="#1d5fae" stroke-width="0.6"/>
<circle cx="294.7" cy="610.7" r="2.85" fill="#2787e3" stroke="#1d5fae" stroke-width="0.6"/>
<circle cx="314.1" cy="610.7" r="2.85" fill="#2787e3" stroke="#1d5fae" stroke-width="0.6"/>
<circle cx="316.5" cy="619.5" r="2.85" fill="#2787e3" stroke="#1d5fae" stroke-width="0.6"/>
<circle cx="301.8" cy="619.5" r="2.85" fill="#2787e3" stroke="#1d5fae" stroke-width="0.6"/>
<circle cx="280.5" cy="623.7" r="2.85" fill="#2787e3" stroke="#1d5fae" stroke-width="0.6"/>
<circle cx="279.4" cy="630.7" r="2.85" fill="#2787e3" stroke="#1d5fae" stroke-width="0.6"/>
<circle cx="334.8" cy="611.9" r="2.85" fill="#2787e3" stroke="#1d5fae" stroke-width="0.6"/>
<circle cx="339.8" cy="569.6" r="2.85" fill="#2787e3" stroke="#1d5fae" stroke-width="0.6"/>
<circle cx="350.2" cy="581.8" r="2.85" fill="#2787e3" stroke="#1d5fae" stroke-width="0.6"/>
<circle cx="386.6" cy="589.4" r="2.85" fill="#2787e3" stroke="#1d5fae" stroke-width="0.6"/>
<circle cx="362.8" cy="600.3" r="2.85" fill="#2787e3" stroke="#1d5fae" stroke-width="0.6"/>
<circle cx="341" cy="598.6" r="2.85" fill="#2787e3" stroke="#1d5fae" stroke-width="0.6"/>
<circle cx="341" cy="607" r="2.85" fill="#2787e3" stroke="#1d5fae" stroke-width="0.6"/>
<circle cx="330.9" cy="597.8" r="2.85" fill="#2787e3" stroke="#1d5fae" stroke-width="0.6"/>
<circle cx="335.1" cy="612" r="2.85" fill="#2787e3" stroke="#1d5fae" stroke-width="0.6"/>
<circle cx="320.6" cy="586.5" r="2.85" fill="#f8640c" stroke="#e0480e" stroke-width="0.6"/>
<circle cx="321.2" cy="589.5" r="2.85" fill="#f8640c" stroke="#e0480e" stroke-width="0.6"/>
<circle cx="327.7" cy="591.2" r="2.85" fill="#f8640c" stroke="#e0480e" stroke-width="0.6"/>
<circle cx="330.6" cy="597.1" r="2.85" fill="#f8640c" stroke="#e0480e" stroke-width="0.6"/>
<circle cx="316.5" cy="600.7" r="2.85" fill="#f8640c" stroke="#e0480e" stroke-width="0.6"/>
<circle cx="324.7" cy="603.6" r="2.85" fill="#f8640c" stroke="#e0480e" stroke-width="0.6"/>
<circle cx="327.7" cy="606.6" r="2.85" fill="#f8640c" stroke="#e0480e" stroke-width="0.6"/>
<circle cx="331.2" cy="610.7" r="2.85" fill="#f8640c" stroke="#e0480e" stroke-width="0.6"/>
<circle cx="333.6" cy="614.2" r="2.85" fill="#f8640c" stroke="#e0480e" stroke-width="0.6"/>
<circle cx="305.3" cy="599.5" r="2.85" fill="#f8640c" stroke="#e0480e" stroke-width="0.6"/>
<circle cx="310" cy="602.4" r="2.85" fill="#f8640c" stroke="#e0480e" stroke-width="0.6"/>
<circle cx="306.5" cy="604.8" r="2.85" fill="#f8640c" stroke="#e0480e" stroke-width="0.6"/>
<circle cx="310" cy="608.3" r="2.85" fill="#f8640c" stroke="#e0480e" stroke-width="0.6"/>
<circle cx="308.8" cy="611.9" r="2.85" fill="#f8640c" stroke="#e0480e" stroke-width="0.6"/>
<circle cx="311.2" cy="615.4" r="2.85" fill="#f8640c" stroke="#e0480e" stroke-width="0.6"/>
<circle cx="315.9" cy="617.2" r="2.85" fill="#f8640c" stroke="#e0480e" stroke-width="0.6"/>
<circle cx="291.1" cy="604.8" r="2.85" fill="#f8640c" stroke="#e0480e" stroke-width="0.6"/>
<circle cx="286.4" cy="608.3" r="2.85" fill="#f8640c" stroke="#e0480e" stroke-width="0.6"/>
<circle cx="290" cy="610.7" r="2.85" fill="#f8640c" stroke="#e0480e" stroke-width="0.6"/>
<circle cx="298.2" cy="608.3" r="2.85" fill="#f8640c" stroke="#e0480e" stroke-width="0.6"/>
<circle cx="300.6" cy="613" r="2.85" fill="#f8640c" stroke="#e0480e" stroke-width="0.6"/>
<circle cx="294.7" cy="614.2" r="2.85" fill="#f8640c" stroke="#e0480e" stroke-width="0.6"/>
<circle cx="291.1" cy="617.8" r="2.85" fill="#f8640c" stroke="#e0480e" stroke-width="0.6"/>
<circle cx="295.9" cy="620.1" r="2.85" fill="#f8640c" stroke="#e0480e" stroke-width="0.6"/>
<circle cx="301.8" cy="620.1" r="2.85" fill="#f8640c" stroke="#e0480e" stroke-width="0.6"/>
<circle cx="284.1" cy="617.8" r="2.85" fill="#f8640c" stroke="#e0480e" stroke-width="0.6"/>
<circle cx="282.9" cy="622.5" r="2.85" fill="#f8640c" stroke="#e0480e" stroke-width="0.6"/>
<circle cx="284.1" cy="626" r="2.85" fill="#f8640c" stroke="#e0480e" stroke-width="0.6"/>
<circle cx="281.7" cy="629.6" r="2.85" fill="#f8640c" stroke="#e0480e" stroke-width="0.6"/>
<circle cx="279.4" cy="631.9" r="2.85" fill="#f8640c" stroke="#e0480e" stroke-width="0.6"/>
<circle cx="281.7" cy="634.3" r="2.85" fill="#f8640c" stroke="#e0480e" stroke-width="0.6"/>
<circle cx="339.8" cy="572.6" r="2.85" fill="#f8640c" stroke="#e0480e" stroke-width="0.6"/>
<circle cx="350.2" cy="577.6" r="2.85" fill="#f8640c" stroke="#e0480e" stroke-width="0.6"/>
<circle cx="386.6" cy="583.5" r="2.85" fill="#f8640c" stroke="#e0480e" stroke-width="0.6"/>
<circle cx="362.8" cy="597.3" r="2.85" fill="#f8640c" stroke="#e0480e" stroke-width="0.6"/>
<circle cx="341" cy="599" r="2.85" fill="#f8640c" stroke="#e0480e" stroke-width="0.6"/>
<circle cx="341" cy="605" r="2.85" fill="#f8640c" stroke="#e0480e" stroke-width="0.6"/>
<circle cx="327.5" cy="591.1" r="2.85" fill="#f8640c" stroke="#e0480e" stroke-width="0.6"/>
<circle cx="330.9" cy="597.3" r="2.85" fill="#f8640c" stroke="#e0480e" stroke-width="0.6"/>
<circle cx="329.2" cy="607.8" r="2.85" fill="#f8640c" stroke="#e0480e" stroke-width="0.6"/>
<circle cx="332.6" cy="610.4" r="2.85" fill="#f8640c" stroke="#e0480e" stroke-width="0.6"/>
<circle cx="332.6" cy="614.6" r="2.85" fill="#f8640c" stroke="#e0480e" stroke-width="0.6"/>
<circle cx="292.5" cy="615.4" r="2.85" fill="#f8640c" stroke="#e0480e" stroke-width="0.6"/>
<circle cx="296.6" cy="617.4" r="2.85" fill="#f8640c" stroke="#e0480e" stroke-width="0.6"/>
<circle cx="288.4" cy="611.3" r="2.85" fill="#f8640c" stroke="#e0480e" stroke-width="0.6"/>
<circle cx="282.3" cy="621.5" r="2.85" fill="#f8640c" stroke="#e0480e" stroke-width="0.6"/>
<circle cx="284.3" cy="627.7" r="2.85" fill="#f8640c" stroke="#e0480e" stroke-width="0.6"/>
<circle cx="300.7" cy="609.3" r="2.85" fill="#f8640c" stroke="#e0480e" stroke-width="0.6"/>
<circle cx="298.6" cy="615.4" r="2.85" fill="#f8640c" stroke="#e0480e" stroke-width="0.6"/>
<circle cx="294.5" cy="611.3" r="2.85" fill="#f8640c" stroke="#e0480e" stroke-width="0.6"/>
<circle cx="290.4" cy="619.5" r="2.85" fill="#f8640c" stroke="#e0480e" stroke-width="0.6"/>
<circle cx="310.9" cy="609.3" r="2.85" fill="#f8640c" stroke="#e0480e" stroke-width="0.6"/>
<circle cx="312.9" cy="613.4" r="2.85" fill="#f8640c" stroke="#e0480e" stroke-width="0.6"/>
<line x1="277.5" y1="642" x2="440.3" y2="479.9" stroke="#555555" stroke-width="1.15" stroke-dasharray="8.8 3.5"/>
<rect x="277.5" y="479.9" width="162.8" height="162.1" fill="none" stroke="#2a2a2a" stroke-width="1.15"/>
<line x1="277.5" y1="642" x2="277.5" y2="645" stroke="#2a2a2a" stroke-width="1.15"/>
<line x1="274.5" y1="642" x2="277.5" y2="642" stroke="#2a2a2a" stroke-width="1.15"/>
<text transform="translate(277.5 658.7) scale(1 1)" font-size="12" text-anchor="middle">0</text>
<text transform="translate(266 642) rotate(-90) scale(1 1)" font-size="12" text-anchor="middle">0</text>
<line x1="331.77" y1="642" x2="331.77" y2="645" stroke="#2a2a2a" stroke-width="1.15"/>
<line x1="274.5" y1="587.97" x2="277.5" y2="587.97" stroke="#2a2a2a" stroke-width="1.15"/>
<text transform="translate(331.77 658.7) scale(1 1)" font-size="12" text-anchor="middle">100</text>
<text transform="translate(266 587.97) rotate(-90) scale(1 1)" font-size="12" text-anchor="middle">100</text>
<line x1="386.03" y1="642" x2="386.03" y2="645" stroke="#2a2a2a" stroke-width="1.15"/>
<line x1="274.5" y1="533.93" x2="277.5" y2="533.93" stroke="#2a2a2a" stroke-width="1.15"/>
<text transform="translate(386.03 658.7) scale(1 1)" font-size="12" text-anchor="middle">200</text>
<text transform="translate(266 533.93) rotate(-90) scale(1 1)" font-size="12" text-anchor="middle">200</text>
<line x1="440.3" y1="642" x2="440.3" y2="645" stroke="#2a2a2a" stroke-width="1.15"/>
<line x1="274.5" y1="479.9" x2="277.5" y2="479.9" stroke="#2a2a2a" stroke-width="1.15"/>
<text transform="translate(440.3 658.7) scale(1 1)" font-size="12" text-anchor="middle">300</text>
<text transform="translate(266 479.9) rotate(-90) scale(1 1)" font-size="12" text-anchor="middle">300</text>
<text transform="translate(298.7 474.2) scale(1 1)" font-size="15.9" textLength="112.7" lengthAdjust="spacingAndGlyphs">(RF/RFOK-2010)</text>
<text transform="translate(298.3 672.4) scale(1 1)" font-size="16" textLength="135" lengthAdjust="spacingAndGlyphs">Observed AGB (t/ha)</text>
<text transform="translate(247.3 626.9) rotate(-90) scale(1 1)" font-size="16" textLength="131.8" lengthAdjust="spacingAndGlyphs">Preditced AGB (t/ha)</text>
<circle cx="285.9" cy="487.1" r="3" fill="#2787e3" stroke="#1d5fae" stroke-width="0.5"/>
<text transform="translate(291.5 491.7) scale(1 1)" font-size="13" textLength="15.6" lengthAdjust="spacingAndGlyphs">RF</text>
<text transform="translate(329.8 491.7) scale(1 1)" font-size="13" textLength="49" lengthAdjust="spacingAndGlyphs">(R²=0.49)</text>
<circle cx="285.9" cy="502.2" r="2.6" fill="#f8640c" stroke="#e0480e" stroke-width="0.5"/>
<text transform="translate(291.5 506) scale(1 1)" font-size="13" textLength="32.7" lengthAdjust="spacingAndGlyphs">RFOK</text>
<text transform="translate(329.8 506) scale(1 1)" font-size="13" textLength="49" lengthAdjust="spacingAndGlyphs">(R²=0.53)</text></g>
<g id="p33"><circle cx="553.8" cy="591.8" r="2.85" fill="#f8640c" stroke="#e0480e" stroke-width="0.6"/>
<circle cx="564.4" cy="600.7" r="2.85" fill="#f8640c" stroke="#e0480e" stroke-width="0.6"/>
<circle cx="549.7" cy="600.1" r="2.85" fill="#f8640c" stroke="#e0480e" stroke-width="0.6"/>
<circle cx="544.4" cy="600.7" r="2.85" fill="#f8640c" stroke="#e0480e" stroke-width="0.6"/>
<circle cx="547.9" cy="611.9" r="2.85" fill="#f8640c" stroke="#e0480e" stroke-width="0.6"/>
<circle cx="558.5" cy="608.3" r="2.85" fill="#f8640c" stroke="#e0480e" stroke-width="0.6"/>
<circle cx="565.6" cy="617.8" r="2.85" fill="#f8640c" stroke="#e0480e" stroke-width="0.6"/>
<circle cx="518.4" cy="614.2" r="2.85" fill="#f8640c" stroke="#e0480e" stroke-width="0.6"/>
<circle cx="527.9" cy="610.7" r="2.85" fill="#f8640c" stroke="#e0480e" stroke-width="0.6"/>
<circle cx="525.5" cy="624.8" r="2.85" fill="#f8640c" stroke="#e0480e" stroke-width="0.6"/>
<circle cx="530.2" cy="626" r="2.85" fill="#f8640c" stroke="#e0480e" stroke-width="0.6"/>
<circle cx="511.4" cy="636.6" r="2.85" fill="#f8640c" stroke="#e0480e" stroke-width="0.6"/>
<circle cx="573.9" cy="572.6" r="2.85" fill="#f8640c" stroke="#e0480e" stroke-width="0.6"/>
<circle cx="621" cy="587.2" r="2.85" fill="#f8640c" stroke="#e0480e" stroke-width="0.6"/>
<circle cx="597" cy="600.3" r="2.85" fill="#f8640c" stroke="#e0480e" stroke-width="0.6"/>
<circle cx="575.1" cy="602" r="2.85" fill="#f8640c" stroke="#e0480e" stroke-width="0.6"/>
<circle cx="564.6" cy="600.6" r="2.85" fill="#f8640c" stroke="#e0480e" stroke-width="0.6"/>
<circle cx="568.1" cy="605.9" r="2.85" fill="#f8640c" stroke="#e0480e" stroke-width="0.6"/>
<circle cx="557.6" cy="608.2" r="2.85" fill="#f8640c" stroke="#e0480e" stroke-width="0.6"/>
<circle cx="566.4" cy="617.5" r="2.85" fill="#f8640c" stroke="#e0480e" stroke-width="0.6"/>
<circle cx="584.4" cy="579.6" r="2.85" fill="#f8640c" stroke="#e0480e" stroke-width="0.6"/>
<circle cx="553.8" cy="587.1" r="2.85" fill="#2ee03c" stroke="#3f7a5a" stroke-width="0.6"/>
<circle cx="554.4" cy="590.6" r="2.85" fill="#2ee03c" stroke="#3f7a5a" stroke-width="0.6"/>
<circle cx="561.5" cy="591.8" r="2.85" fill="#2ee03c" stroke="#3f7a5a" stroke-width="0.6"/>
<circle cx="564.4" cy="598.3" r="2.85" fill="#2ee03c" stroke="#3f7a5a" stroke-width="0.6"/>
<circle cx="549.7" cy="601.8" r="2.85" fill="#2ee03c" stroke="#3f7a5a" stroke-width="0.6"/>
<circle cx="558.5" cy="604.8" r="2.85" fill="#2ee03c" stroke="#3f7a5a" stroke-width="0.6"/>
<circle cx="562" cy="608.3" r="2.85" fill="#2ee03c" stroke="#3f7a5a" stroke-width="0.6"/>
<circle cx="565.6" cy="611.9" r="2.85" fill="#2ee03c" stroke="#3f7a5a" stroke-width="0.6"/>
<circle cx="566.8" cy="615.4" r="2.85" fill="#2ee03c" stroke="#3f7a5a" stroke-width="0.6"/>
<circle cx="538.5" cy="600.7" r="2.85" fill="#2ee03c" stroke="#3f7a5a" stroke-width="0.6"/>
<circle cx="542" cy="604.8" r="2.85" fill="#2ee03c" stroke="#3f7a5a" stroke-width="0.6"/>
<circle cx="539.6" cy="607.2" r="2.85" fill="#2ee03c" stroke="#3f7a5a" stroke-width="0.6"/>
<circle cx="544.4" cy="611.9" r="2.85" fill="#2ee03c" stroke="#3f7a5a" stroke-width="0.6"/>
<circle cx="543.2" cy="615.4" r="2.85" fill="#2ee03c" stroke="#3f7a5a" stroke-width="0.6"/>
<circle cx="549.1" cy="618.4" r="2.85" fill="#2ee03c" stroke="#3f7a5a" stroke-width="0.6"/>
<circle cx="546.7" cy="615.4" r="2.85" fill="#2ee03c" stroke="#3f7a5a" stroke-width="0.6"/>
<circle cx="523.1" cy="604.8" r="2.85" fill="#2ee03c" stroke="#3f7a5a" stroke-width="0.6"/>
<circle cx="519.6" cy="608.3" r="2.85" fill="#2ee03c" stroke="#3f7a5a" stroke-width="0.6"/>
<circle cx="524.3" cy="610.7" r="2.85" fill="#2ee03c" stroke="#3f7a5a" stroke-width="0.6"/>
<circle cx="532.6" cy="607.2" r="2.85" fill="#2ee03c" stroke="#3f7a5a" stroke-width="0.6"/>
<circle cx="533.8" cy="611.9" r="2.85" fill="#2ee03c" stroke="#3f7a5a" stroke-width="0.6"/>
<circle cx="529" cy="614.2" r="2.85" fill="#2ee03c" stroke="#3f7a5a" stroke-width="0.6"/>
<circle cx="525.5" cy="616.6" r="2.85" fill="#2ee03c" stroke="#3f7a5a" stroke-width="0.6"/>
<circle cx="531.4" cy="618.9" r="2.85" fill="#2ee03c" stroke="#3f7a5a" stroke-width="0.6"/>
<circle cx="534.9" cy="620.1" r="2.85" fill="#2ee03c" stroke="#3f7a5a" stroke-width="0.6"/>
<circle cx="527.9" cy="620.8" r="2.85" fill="#2ee03c" stroke="#3f7a5a" stroke-width="0.6"/>
<circle cx="516.1" cy="618.9" r="2.85" fill="#2ee03c" stroke="#3f7a5a" stroke-width="0.6"/>
<circle cx="517.3" cy="623.7" r="2.85" fill="#2ee03c" stroke="#3f7a5a" stroke-width="0.6"/>
<circle cx="514.9" cy="628.4" r="2.85" fill="#2ee03c" stroke="#3f7a5a" stroke-width="0.6"/>
<circle cx="512.5" cy="631.9" r="2.85" fill="#2ee03c" stroke="#3f7a5a" stroke-width="0.6"/>
<circle cx="513.7" cy="635.4" r="2.85" fill="#2ee03c" stroke="#3f7a5a" stroke-width="0.6"/>
<circle cx="518.4" cy="627.2" r="2.85" fill="#2ee03c" stroke="#3f7a5a" stroke-width="0.6"/>
<circle cx="573.9" cy="574.9" r="2.85" fill="#2ee03c" stroke="#3f7a5a" stroke-width="0.6"/>
<circle cx="584.4" cy="578.4" r="2.85" fill="#2ee03c" stroke="#3f7a5a" stroke-width="0.6"/>
<circle cx="621" cy="584.5" r="2.85" fill="#2ee03c" stroke="#3f7a5a" stroke-width="0.6"/>
<circle cx="597" cy="598" r="2.85" fill="#2ee03c" stroke="#3f7a5a" stroke-width="0.6"/>
<circle cx="561.5" cy="592.4" r="2.85" fill="#2ee03c" stroke="#3f7a5a" stroke-width="0.6"/>
<circle cx="564.6" cy="598.5" r="2.85" fill="#2ee03c" stroke="#3f7a5a" stroke-width="0.6"/>
<circle cx="575.1" cy="600" r="2.85" fill="#2ee03c" stroke="#3f7a5a" stroke-width="0.6"/>
<circle cx="574.6" cy="605.5" r="2.85" fill="#2ee03c" stroke="#3f7a5a" stroke-width="0.6"/>
<circle cx="558.9" cy="604.7" r="2.85" fill="#2ee03c" stroke="#3f7a5a" stroke-width="0.6"/>
<circle cx="562" cy="608.2" r="2.85" fill="#2ee03c" stroke="#3f7a5a" stroke-width="0.6"/>
<circle cx="565.5" cy="611.7" r="2.85" fill="#2ee03c" stroke="#3f7a5a" stroke-width="0.6"/>
<circle cx="566.4" cy="615.7" r="2.85" fill="#2ee03c" stroke="#3f7a5a" stroke-width="0.6"/>
<circle cx="568.1" cy="608.2" r="2.85" fill="#2ee03c" stroke="#3f7a5a" stroke-width="0.6"/>
<circle cx="555" cy="588" r="2.85" fill="#2ee03c" stroke="#3f7a5a" stroke-width="0.6"/>
<circle cx="515.2" cy="619.5" r="2.85" fill="#2ee03c" stroke="#3f7a5a" stroke-width="0.6"/>
<circle cx="513.2" cy="627.7" r="2.85" fill="#2ee03c" stroke="#3f7a5a" stroke-width="0.6"/>
<circle cx="517.3" cy="625.6" r="2.85" fill="#2ee03c" stroke="#3f7a5a" stroke-width="0.6"/>
<circle cx="525.4" cy="611.3" r="2.85" fill="#2ee03c" stroke="#3f7a5a" stroke-width="0.6"/>
<circle cx="527.5" cy="617.4" r="2.85" fill="#2ee03c" stroke="#3f7a5a" stroke-width="0.6"/>
<circle cx="531.6" cy="611.3" r="2.85" fill="#2ee03c" stroke="#3f7a5a" stroke-width="0.6"/>
<circle cx="529.5" cy="605.2" r="2.85" fill="#2ee03c" stroke="#3f7a5a" stroke-width="0.6"/>
<circle cx="521.3" cy="609.3" r="2.85" fill="#2ee03c" stroke="#3f7a5a" stroke-width="0.6"/>
<circle cx="541.8" cy="605.2" r="2.85" fill="#2ee03c" stroke="#3f7a5a" stroke-width="0.6"/>
<circle cx="543.8" cy="611.3" r="2.85" fill="#2ee03c" stroke="#3f7a5a" stroke-width="0.6"/>
<circle cx="545.9" cy="615.4" r="2.85" fill="#2ee03c" stroke="#3f7a5a" stroke-width="0.6"/>
<line x1="510" y1="643.4" x2="675.5" y2="480.5" stroke="#555555" stroke-width="1.15" stroke-dasharray="8.8 3.5"/>
<rect x="510" y="480.5" width="165.5" height="162.9" fill="none" stroke="#2a2a2a" stroke-width="1.15"/>
<line x1="510" y1="643.4" x2="510" y2="646.4" stroke="#2a2a2a" stroke-width="1.15"/>
<line x1="507" y1="643.4" x2="510" y2="643.4" stroke="#2a2a2a" stroke-width="1.15"/>
<text transform="translate(510 659.6) scale(1 1)" font-size="12" text-anchor="middle">0</text>
<text transform="translate(498.5 643.4) rotate(-90) scale(1 1)" font-size="12" text-anchor="middle">0</text>
<line x1="565.17" y1="643.4" x2="565.17" y2="646.4" stroke="#2a2a2a" stroke-width="1.15"/>
<line x1="507" y1="589.1" x2="510" y2="589.1" stroke="#2a2a2a" stroke-width="1.15"/>
<text transform="translate(565.17 659.6) scale(1 1)" font-size="12" text-anchor="middle">100</text>
<text transform="translate(498.5 589.1) rotate(-90) scale(1 1)" font-size="12" text-anchor="middle">100</text>
<line x1="620.33" y1="643.4" x2="620.33" y2="646.4" stroke="#2a2a2a" stroke-width="1.15"/>
<line x1="507" y1="534.8" x2="510" y2="534.8" stroke="#2a2a2a" stroke-width="1.15"/>
<text transform="translate(620.33 659.6) scale(1 1)" font-size="12" text-anchor="middle">200</text>
<text transform="translate(498.5 534.8) rotate(-90) scale(1 1)" font-size="12" text-anchor="middle">200</text>
<line x1="675.5" y1="643.4" x2="675.5" y2="646.4" stroke="#2a2a2a" stroke-width="1.15"/>
<line x1="507" y1="480.5" x2="510" y2="480.5" stroke="#2a2a2a" stroke-width="1.15"/>
<text transform="translate(675.5 659.6) scale(1 1)" font-size="12" text-anchor="middle">300</text>
<text transform="translate(498.5 480.5) rotate(-90) scale(1 1)" font-size="12" text-anchor="middle">300</text>
<text transform="translate(526.1 474.7) scale(1 1)" font-size="15.9" textLength="133.7" lengthAdjust="spacingAndGlyphs">(RFOK/RFCK-2010)</text>
<text transform="translate(533 673) scale(1 1)" font-size="16" textLength="135" lengthAdjust="spacingAndGlyphs">Observed AGB (t/ha)</text>
<text transform="translate(487.2 629.9) rotate(-90) scale(1 1)" font-size="16" textLength="131.6" lengthAdjust="spacingAndGlyphs">Preditced AGB (t/ha)</text>
<circle cx="519.4" cy="489.6" r="2.9" fill="#f8640c" stroke="#e0480e" stroke-width="0.5"/>
<text transform="translate(525 493.1) scale(1 1)" font-size="13" textLength="32.7" lengthAdjust="spacingAndGlyphs">RFOK</text>
<text transform="translate(563.7 493.1) scale(1 1)" font-size="13" textLength="48.9" lengthAdjust="spacingAndGlyphs">(R²=0.53)</text>
<circle cx="519.4" cy="503.1" r="2.9" fill="#2ee03c" stroke="#3f7a5a" stroke-width="0.5"/>
<text transform="translate(525 506.6) scale(1 1)" font-size="13" textLength="32.5" lengthAdjust="spacingAndGlyphs">RFCK</text>
<text transform="translate(563.7 506.6) scale(1 1)" font-size="13" textLength="48.9" lengthAdjust="spacingAndGlyphs">(R²=0.55)</text></g>
</svg></body></html>
